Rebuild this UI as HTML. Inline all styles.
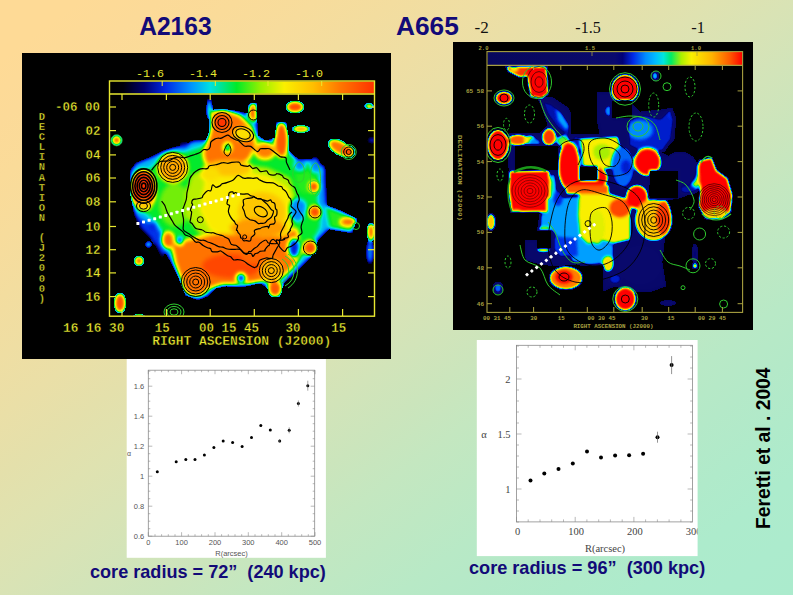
<!DOCTYPE html>
<html><head><meta charset="utf-8">
<style>
html,body{margin:0;padding:0;}
body{width:793px;height:595px;overflow:hidden;position:relative;
background:linear-gradient(to bottom right,rgb(254,218,150) 0%,rgb(254,218,150) 5%,rgb(252,218,152) 10%,rgb(250,219,153) 15%,rgb(247,220,156) 20%,rgb(243,221,159) 25%,rgb(239,222,163) 30%,rgb(234,223,167) 35%,rgb(228,224,171) 40%,rgb(223,226,176) 45%,rgb(217,227,181) 50%,rgb(210,228,185) 55%,rgb(203,229,188) 60%,rgb(196,231,192) 65%,rgb(190,232,195) 70%,rgb(184,233,198) 75%,rgb(180,233,200) 80%,rgb(176,234,202) 85%,rgb(173,235,204) 90%,rgb(172,235,205) 95%,rgb(171,235,205) 100%);
font-family:"Liberation Sans",sans-serif;}
svg{position:absolute;left:0;top:0;}
</style></head>
<body>
<svg width="793" height="595" viewBox="0 0 793 595">
<defs>
<filter id="fL" filterUnits="userSpaceOnUse" x="100" y="85" width="285" height="240" color-interpolation-filters="sRGB">
<feColorMatrix in="SourceGraphic" type="matrix" values="0 0 0 0 0  0 0 0 0 0  0 0 0 0 0  1 0 0 0 0" result="m0"/>
<feComponentTransfer in="m0" result="mask"><feFuncA type="discrete" tableValues="0 1 1 1 1 1 1 1 1 1 1 1 1 1 1 1 1 1 1 1 1 1 1 1 1 1 1 1 1 1 1 1"/></feComponentTransfer>
<feGaussianBlur in="SourceGraphic" stdDeviation="2.0" result="b"/>
<feComponentTransfer in="b" result="c">
<feFuncR type="table" tableValues="0.000 0.000 0.000 0.000 0.000 0.000 0.000 0.000 0.000 0.000 0.000 0.000 0.000 0.000 0.000 0.000 0.000 0.000 0.000 0.000 0.000 0.000 0.000 0.000 0.000 0.000 0.000 0.000 0.000 0.000 0.000 0.000 0.000 0.000 0.000 0.000 0.000 0.000 0.000 0.000 0.000 0.000 0.000 0.000 0.000 0.000 0.028 0.096 0.165 0.234 0.303 0.372 0.440 0.509 0.578 0.627 0.673 0.719 0.765 0.811 0.857 0.902 0.948 0.981 0.983 0.985 0.987 0.988 0.990 0.992 0.994 0.996 0.998 1.000 1.000 1.000 1.000 1.000 1.000 1.000 1.000 1.000 1.000 1.000 1.000 1.000 1.000 1.000 1.000 1.000 1.000 1.000 1.000 1.000 1.000 1.000"/>
<feFuncG type="table" tableValues="0.000 0.000 0.000 0.000 0.000 0.000 0.000 0.000 0.000 0.000 0.000 0.000 0.000 0.013 0.034 0.055 0.075 0.096 0.117 0.137 0.159 0.205 0.250 0.295 0.341 0.386 0.432 0.477 0.522 0.568 0.613 0.657 0.701 0.745 0.789 0.834 0.878 0.886 0.890 0.894 0.898 0.903 0.907 0.911 0.915 0.919 0.922 0.925 0.927 0.929 0.932 0.934 0.936 0.939 0.941 0.941 0.941 0.941 0.941 0.941 0.941 0.941 0.941 0.936 0.917 0.898 0.879 0.860 0.842 0.823 0.804 0.785 0.767 0.748 0.721 0.692 0.663 0.634 0.605 0.576 0.547 0.518 0.489 0.463 0.441 0.418 0.396 0.374 0.352 0.329 0.307 0.285 0.263 0.241 0.218 0.196"/>
<feFuncB type="table" tableValues="0.000 0.007 0.013 0.020 0.026 0.045 0.097 0.150 0.202 0.255 0.308 0.360 0.413 0.472 0.534 0.595 0.657 0.719 0.781 0.843 0.902 0.913 0.923 0.933 0.944 0.954 0.964 0.975 0.985 0.995 0.990 0.973 0.955 0.937 0.920 0.902 0.884 0.814 0.737 0.661 0.585 0.508 0.432 0.355 0.279 0.203 0.150 0.131 0.113 0.094 0.076 0.058 0.039 0.021 0.003 0.000 0.000 0.000 0.000 0.000 0.000 0.000 0.000 0.000 0.000 0.000 0.000 0.000 0.000 0.000 0.000 0.000 0.000 0.000 0.000 0.000 0.000 0.000 0.000 0.000 0.000 0.000 0.000 0.000 0.000 0.000 0.000 0.000 0.000 0.000 0.000 0.000 0.000 0.000 0.000 0.000"/>
<feFuncA type="table" tableValues="1 1"/>
</feComponentTransfer>
<feComposite in="c" in2="mask" operator="in"/>
</filter>
<filter id="fR" filterUnits="userSpaceOnUse" x="478" y="56" width="275" height="266" color-interpolation-filters="sRGB">
<feColorMatrix in="SourceGraphic" type="matrix" values="0 0 0 0 0  0 0 0 0 0  0 0 0 0 0  1 0 0 0 0" result="m0"/>
<feComponentTransfer in="m0" result="mask"><feFuncA type="discrete" tableValues="0 1 1 1 1 1 1 1 1 1 1 1 1 1 1 1 1 1 1 1 1 1 1 1 1 1 1 1 1 1 1 1"/></feComponentTransfer>
<feGaussianBlur in="SourceGraphic" stdDeviation="1.6" result="b"/>
<feComponentTransfer in="b" result="c">
<feFuncR type="table" tableValues="0.000 0.000 0.000 0.000 0.001 0.004 0.008 0.011 0.014 0.018 0.020 0.020 0.021 0.021 0.022 0.022 0.023 0.023 0.024 0.025 0.025 0.026 0.026 0.027 0.027 0.028 0.028 0.029 0.029 0.030 0.030 0.031 0.031 0.032 0.032 0.033 0.033 0.034 0.034 0.035 0.035 0.036 0.036 0.037 0.037 0.038 0.038 0.039 0.032 0.019 0.005 0.000 0.000 0.000 0.000 0.000 0.000 0.000 0.000 0.000 0.000 0.000 0.000 0.000 0.000 0.000 0.000 0.000 0.000 0.105 0.281 0.456 0.632 0.733 0.815 0.898 0.980 0.983 0.986 0.988 0.991 0.993 0.996 0.998 1.000 1.000 1.000 1.000 1.000 1.000 1.000 1.000 1.000 1.000 1.000 1.000"/>
<feFuncG type="table" tableValues="0.000 0.000 0.000 0.000 0.001 0.004 0.008 0.011 0.014 0.018 0.020 0.020 0.021 0.021 0.022 0.022 0.023 0.023 0.024 0.025 0.025 0.026 0.026 0.027 0.027 0.028 0.028 0.029 0.029 0.030 0.030 0.031 0.031 0.032 0.032 0.033 0.033 0.034 0.034 0.035 0.035 0.036 0.036 0.037 0.037 0.038 0.038 0.039 0.032 0.019 0.005 0.027 0.068 0.109 0.151 0.227 0.310 0.392 0.475 0.554 0.606 0.657 0.709 0.762 0.817 0.872 0.905 0.912 0.919 0.925 0.930 0.935 0.940 0.941 0.941 0.941 0.941 0.910 0.879 0.848 0.817 0.786 0.755 0.724 0.685 0.632 0.579 0.525 0.472 0.419 0.366 0.297 0.223 0.149 0.074 0.000"/>
<feFuncB type="table" tableValues="0.000 0.021 0.041 0.062 0.089 0.144 0.200 0.255 0.310 0.365 0.393 0.394 0.395 0.396 0.397 0.398 0.399 0.400 0.401 0.402 0.403 0.404 0.405 0.406 0.407 0.408 0.409 0.410 0.411 0.412 0.413 0.414 0.415 0.416 0.417 0.418 0.420 0.421 0.422 0.423 0.424 0.425 0.426 0.427 0.428 0.429 0.430 0.431 0.438 0.452 0.466 0.544 0.658 0.771 0.885 0.920 0.940 0.961 0.981 1.000 1.000 1.000 1.000 0.986 0.937 0.889 0.788 0.623 0.458 0.330 0.227 0.124 0.021 0.000 0.000 0.000 0.000 0.000 0.000 0.000 0.000 0.000 0.000 0.000 0.000 0.000 0.000 0.000 0.000 0.000 0.000 0.000 0.000 0.000 0.000 0.000"/>
<feFuncA type="table" tableValues="1 1"/>
</feComponentTransfer>
<feComposite in="c" in2="mask" operator="in"/>
</filter>
<clipPath id="cL"><rect x="109.5" y="93.5" width="264.5" height="222"/></clipPath>
<clipPath id="cR"><rect x="487" y="65.5" width="255.5" height="247"/></clipPath>
<linearGradient id="gL" x1="0" x2="1" y1="0" y2="0"><stop offset="0.000" stop-color="rgb(0,0,0)"/><stop offset="0.050" stop-color="rgb(0,0,8)"/><stop offset="0.130" stop-color="rgb(0,0,110)"/><stop offset="0.210" stop-color="rgb(0,40,230)"/><stop offset="0.310" stop-color="rgb(0,150,255)"/><stop offset="0.380" stop-color="rgb(0,225,225)"/><stop offset="0.480" stop-color="rgb(0,235,40)"/><stop offset="0.570" stop-color="rgb(150,240,0)"/><stop offset="0.660" stop-color="rgb(250,240,0)"/><stop offset="0.770" stop-color="rgb(255,190,0)"/><stop offset="0.870" stop-color="rgb(255,120,0)"/><stop offset="1.000" stop-color="rgb(255,50,0)"/></linearGradient>
<linearGradient id="gR" x1="0" x2="1" y1="0" y2="0"><stop offset="0.000" stop-color="rgb(8,8,92)"/><stop offset="0.500" stop-color="rgb(10,10,110)"/><stop offset="0.530" stop-color="rgb(0,0,120)"/><stop offset="0.570" stop-color="rgb(0,40,230)"/><stop offset="0.620" stop-color="rgb(0,140,255)"/><stop offset="0.660" stop-color="rgb(0,190,255)"/><stop offset="0.690" stop-color="rgb(0,230,220)"/><stop offset="0.720" stop-color="rgb(0,235,100)"/><stop offset="0.760" stop-color="rgb(170,240,0)"/><stop offset="0.800" stop-color="rgb(250,240,0)"/><stop offset="0.880" stop-color="rgb(255,180,0)"/><stop offset="0.950" stop-color="rgb(255,90,0)"/><stop offset="1.000" stop-color="rgb(255,0,0)"/></linearGradient>
</defs>
<rect x="22" y="53" width="369" height="306" fill="#000"/>
<rect x="453" y="42" width="300" height="288" fill="#000"/>
<g clip-path="url(#cL)"><g filter="url(#fL)"><rect x="100" y="85" width="285" height="240" fill="#000"/>
<path d="M130 171 L136 163 L151 157 L163 151 L175 147 L184 146 L192 141 L200 140 L209 141 L209 117 L207 99 L211 99 L213 110 L221 109 L236 111 L248 114 L249 104 L258 103 L257 121 L262 136 L272 137 L274 122 L286 122 L288 140 L289 152 L298 159 L314 159 L325 167 L327 206 L341 213 L356 221 L352 233 L329 229 L318 240 L310 258 L297 271 L284 283 L279 297 L271 291 L261 283 L241 287 L226 286 L216 288 L208 296 L198 300 L188 296 L186 296 L182 286 L178 276 L173 266 L167 255 L162 248 L156 240 L150 232 L140 224 L134 212 L130 191 Z" fill="rgb(87,87,87)"/>
<path d="M138 178 L160 160 L185 152 L204 146 L212 125 L240 118 L255 132 L270 144 L290 152 L300 164 L318 166 L322 200 L320 228 L310 245 L298 262 L284 276 L262 278 L241 282 L222 282 L205 290 L192 290 L184 276 L178 262 L170 250 L165 235 L155 222 L145 212 Z" fill="rgb(122,122,122)"/>
<ellipse cx="175" cy="205" rx="16" ry="22" fill="rgb(140,140,140)"/>
<path d="M207 145 L211 130 L212 112 L224 110 L240 116 L252 128 L256 146 L248 160 L232 166 L214 167 L205 162 L203 152 Z" fill="rgb(224,224,224)"/>
<ellipse cx="243" cy="134" rx="10" ry="7" fill="rgb(178,178,178)"/>
<ellipse cx="227.5" cy="147.5" rx="4" ry="5" fill="rgb(97,97,97)"/>
<ellipse cx="222" cy="122.5" rx="6" ry="6" fill="rgb(255,255,255)"/>
<ellipse cx="254" cy="112" rx="5.5" ry="9" fill="rgb(235,235,235)"/>
<ellipse cx="281.5" cy="140" rx="7" ry="17" fill="rgb(237,237,237)"/>
<path d="M192 174 L232 163 L268 168 L290 178 L298 206 L292 230 L272 244 L232 244 L200 234 L186 216 L186 192 Z" fill="rgb(153,153,153)"/>
<path d="M205 180 L238 170 L268 176 L288 188 L296 208 L290 230 L270 242 L236 240 L210 230 L200 210 Z" fill="rgb(171,171,171)"/>
<ellipse cx="262" cy="212" rx="24" ry="20" fill="rgb(191,191,191)"/>
<ellipse cx="258" cy="228" rx="28" ry="10" fill="rgb(209,209,209)"/>
<ellipse cx="228" cy="168" rx="24" ry="8" fill="rgb(194,194,194)"/>
<ellipse cx="210" cy="174" rx="10" ry="7" fill="rgb(178,178,178)"/>
<path d="M172 244 L195 238 L215 234 L240 235 L262 238 L283 236 L296 228 L302 252 L292 268 L280 279 L262 281 L244 284 L222 284 L205 290 L192 292 L186 290 L180 276 L175 262 Z" fill="rgb(224,224,224)"/>
<ellipse cx="232" cy="266" rx="30" ry="12" fill="rgb(245,245,245)"/>
<ellipse cx="255" cy="258" rx="14" ry="6" fill="rgb(230,230,230)"/>
<path d="M256 100 L276 100 L277 120 L275 138 L266 141 L258 136 L257 120 Z" fill="rgb(0,0,0)"/>
<path d="M290 114 L300 114 L318 120 L326 150 L310 156 L297 152 L290 140 Z" fill="rgb(0,0,0)"/>
<ellipse cx="295" cy="107" rx="9" ry="6" fill="rgb(242,242,242)"/>
<ellipse cx="301" cy="129" rx="9" ry="3.5" fill="rgb(230,230,230)"/>
<ellipse cx="265" cy="151" rx="10" ry="8" fill="rgb(219,219,219)"/>
<ellipse cx="209" cy="110" rx="2.5" ry="9" fill="rgb(115,115,115)"/>
<ellipse cx="143" cy="190" rx="12" ry="20" fill="rgb(255,255,255)"/>
<ellipse cx="143.5" cy="205" rx="8" ry="6" fill="rgb(191,191,191)"/>
<ellipse cx="172.7" cy="167.4" rx="15" ry="15" fill="rgb(204,204,204)"/>
<ellipse cx="305" cy="178" rx="10" ry="16" fill="rgb(128,128,128)"/>
<ellipse cx="300" cy="165" rx="6" ry="6" fill="rgb(76,76,76)"/>
<ellipse cx="315" cy="165" rx="5" ry="8" fill="rgb(76,76,76)"/>
<ellipse cx="322" cy="195" rx="4" ry="22" fill="rgb(76,76,76)"/>
<ellipse cx="314" cy="186.7" rx="5" ry="5" fill="rgb(242,242,242)"/>
<ellipse cx="315" cy="212" rx="6" ry="6" fill="rgb(242,242,242)"/>
<ellipse cx="301" cy="207" rx="5" ry="7" fill="rgb(64,64,64)"/>
<ellipse cx="294" cy="248" rx="6" ry="10" fill="rgb(51,51,51)"/>
<ellipse cx="310.4" cy="248" rx="7" ry="7" fill="rgb(242,242,242)"/>
<path d="M325 205 L341 211 L357 219 L352 232 L330 229 Z" fill="rgb(128,128,128)"/>
<ellipse cx="348" cy="222" rx="8" ry="4" fill="rgb(230,230,230)"/>
<ellipse cx="184" cy="145" rx="4" ry="3" fill="rgb(46,46,46)"/>
<path d="M134 214 L145 221 L158 228 L164 240 L165 252 L162 258 L157 248 L150 238 L140 228 Z" fill="rgb(56,56,56)"/>
<ellipse cx="297" cy="210" rx="8" ry="12" fill="rgb(76,76,76)"/>
<ellipse cx="180" cy="241" rx="3" ry="4" fill="rgb(51,51,51)"/>
<ellipse cx="153" cy="226" rx="4" ry="4" fill="rgb(51,51,51)"/>
<ellipse cx="241" cy="278" rx="5" ry="5" fill="rgb(56,56,56)"/>
<ellipse cx="168" cy="240" rx="6" ry="8" fill="rgb(230,230,230)"/>
<ellipse cx="195.7" cy="282" rx="14" ry="14" fill="rgb(224,224,224)"/>
<ellipse cx="271.3" cy="270.6" rx="12" ry="12" fill="rgb(199,199,199)"/>
<ellipse cx="275" cy="289" rx="7" ry="8" fill="rgb(237,237,237)"/>
<ellipse cx="116.6" cy="140.3" rx="5" ry="5" fill="rgb(235,235,235)"/>
<ellipse cx="340" cy="148" rx="13" ry="7" fill="rgb(224,224,224)" transform="rotate(30 340 148)"/>
<ellipse cx="348.7" cy="152" rx="6" ry="6" fill="rgb(242,242,242)"/>
<ellipse cx="371.9" cy="140.3" rx="4" ry="3" fill="rgb(56,56,56)"/>
<ellipse cx="369" cy="106" rx="4.5" ry="2.5" fill="rgb(237,237,237)"/>
<ellipse cx="371" cy="232" rx="4" ry="9" fill="rgb(235,235,235)"/>
<ellipse cx="370" cy="252" rx="4" ry="12" fill="rgb(76,76,76)"/>
<ellipse cx="120" cy="303" rx="6" ry="10" fill="rgb(242,242,242)"/>
<ellipse cx="139" cy="317" rx="6" ry="3" fill="rgb(242,242,242)"/>
<ellipse cx="139" cy="261" rx="5" ry="5" fill="rgb(230,230,230)"/>
<ellipse cx="148.4" cy="244.4" rx="3" ry="3" fill="rgb(128,128,128)"/>
</g>
<ellipse cx="260.8" cy="211.6" rx="7" ry="4.55" fill="none" stroke="#000" stroke-width="1.1" transform="rotate(30 260.8 211.6)"/>
<path d="M243.4 199.9 C244.2 198.7 246.8 198.6 248.1 198.3 C249.5 198.0 250.5 198.1 251.4 197.9 C252.4 197.7 252.6 196.9 253.6 197.0 C254.5 197.1 256.0 198.1 257.2 198.5 C258.4 198.8 259.5 198.3 261.0 199.0 C262.4 199.8 264.7 202.2 265.8 203.0 C266.8 203.9 266.2 203.0 267.1 204.1 C268.0 205.2 270.1 208.3 271.1 209.4 C272.1 210.5 272.9 210.1 273.2 210.7 C273.6 211.2 273.5 211.8 273.2 212.9 C272.9 213.9 272.4 215.8 271.5 217.0 C270.6 218.1 269.0 218.8 267.9 219.8 C266.7 220.8 265.9 222.4 264.7 223.0 C263.5 223.6 261.7 223.2 260.6 223.3 C259.6 223.4 259.4 224.0 258.4 223.6 C257.5 223.2 256.2 221.6 254.8 220.9 C253.4 220.3 251.0 220.1 249.9 219.7 C248.9 219.4 249.3 219.3 248.6 218.8 C247.9 218.2 246.4 217.3 245.7 216.3 C245.1 215.2 244.8 213.3 244.5 212.4 C244.2 211.4 244.3 211.5 243.9 210.6 C243.6 209.8 242.5 208.1 242.5 207.2 C242.5 206.3 243.6 206.4 243.7 205.2 C243.9 204.0 242.7 201.0 243.4 199.9Z" fill="none" stroke="#000" stroke-width="1.2"/>
<path d="M229.2 192.8 C229.9 192.0 232.0 191.8 232.7 191.9 C233.5 192.1 233.2 193.6 233.6 193.7 C234.1 193.7 234.7 192.5 235.5 192.5 C236.3 192.5 237.0 193.4 238.5 193.7 C239.9 194.0 242.6 194.0 244.2 194.1 C245.7 194.1 246.8 193.6 247.9 193.9 C249.0 194.2 249.7 195.4 250.7 195.8 C251.7 196.2 252.5 195.8 253.7 196.4 C254.9 196.9 256.8 198.5 257.9 198.9 C259.0 199.3 259.4 198.6 260.1 198.7 C260.8 198.8 260.9 199.1 262.1 199.5 C263.3 199.9 266.0 201.0 267.4 201.1 C268.8 201.1 269.8 199.7 270.6 199.8 C271.3 200.0 271.4 201.7 271.9 202.1 C272.3 202.5 272.9 202.2 273.4 202.5 C273.9 202.8 274.5 203.0 274.9 204.0 C275.2 205.1 275.2 207.8 275.6 208.8 C275.9 209.8 276.6 208.7 276.8 209.8 C277.0 210.9 277.0 213.9 276.6 215.2 C276.2 216.4 274.9 216.0 274.6 217.2 C274.3 218.3 275.2 220.8 275.1 221.9 C274.9 223.0 274.7 223.5 273.9 223.9 C273.1 224.3 271.1 223.8 270.2 224.5 C269.3 225.2 268.9 227.7 268.4 228.0 C268.0 228.3 268.7 226.5 267.7 226.3 C266.7 226.2 263.8 226.9 262.5 227.3 C261.2 227.7 260.5 228.5 259.9 228.8 C259.4 229.0 259.9 228.5 259.1 228.7 C258.3 228.9 255.9 229.5 255.1 229.9 C254.4 230.3 254.3 230.3 254.3 231.0 C254.2 231.7 255.2 233.2 254.8 234.1 C254.5 235.0 252.7 236.0 252.1 236.6 C251.5 237.1 251.5 236.8 251.3 237.5 C251.0 238.1 251.0 239.8 250.6 240.5 C250.3 241.1 249.9 241.2 249.2 241.2 C248.5 241.2 247.3 240.7 246.4 240.6 C245.4 240.5 244.5 241.1 243.7 240.7 C243.0 240.3 242.4 238.7 241.9 238.2 C241.4 237.7 241.0 238.4 240.7 237.8 C240.4 237.3 240.5 235.7 240.1 234.8 C239.6 233.9 238.5 233.1 238.0 232.4 C237.5 231.6 237.6 230.8 237.3 230.4 C237.1 230.0 236.4 230.8 236.4 230.0 C236.5 229.2 237.7 226.6 237.6 225.6 C237.5 224.6 236.4 225.0 235.8 224.2 C235.2 223.4 234.5 221.4 234.1 220.8 C233.8 220.3 234.3 221.6 233.6 220.9 C233.0 220.2 231.2 218.1 230.4 216.6 C229.5 215.2 228.8 213.3 228.5 212.1 C228.2 210.8 228.5 210.3 228.7 209.2 C228.8 208.1 229.8 206.4 229.6 205.5 C229.3 204.6 227.1 205.1 227.0 203.7 C226.8 202.2 228.2 198.5 228.6 196.7 C229.0 194.9 228.5 193.6 229.2 192.8Z" fill="none" stroke="#000" stroke-width="1.2"/>
<path d="M212.5 184.9 C213.4 184.3 214.6 187.1 215.9 187.3 C217.1 187.4 219.3 186.2 220.3 185.7 C221.3 185.1 220.7 184.5 221.7 184.0 C222.8 183.5 224.9 183.3 226.8 182.6 C228.7 181.9 231.5 181.1 233.3 179.9 C235.2 178.7 236.3 175.7 238.1 175.4 C239.8 175.1 242.0 177.8 243.6 178.2 C245.3 178.6 246.4 178.0 247.8 177.9 C249.1 177.9 250.8 178.0 251.7 178.1 C252.6 178.1 252.3 178.4 253.2 178.4 C254.1 178.4 256.0 177.6 257.0 177.9 C258.0 178.1 257.9 178.9 259.3 179.7 C260.7 180.4 263.1 181.8 265.4 182.3 C267.7 182.9 270.8 182.3 273.0 182.9 C275.1 183.5 276.8 185.3 278.3 186.0 C279.8 186.6 281.0 186.2 281.7 186.7 C282.5 187.2 282.0 188.1 282.7 188.9 C283.5 189.7 285.0 190.2 286.0 191.6 C287.0 192.9 288.0 195.9 288.8 197.1 C289.6 198.4 290.4 198.1 290.8 199.2 C291.3 200.2 291.5 202.3 291.6 203.6 C291.6 204.8 290.5 205.3 291.1 206.4 C291.7 207.5 294.3 209.2 295.1 210.2 C295.9 211.2 296.3 211.3 295.9 212.5 C295.5 213.8 293.4 216.0 292.7 217.6 C292.1 219.1 291.9 220.5 291.9 221.6 C291.9 222.8 292.9 223.1 292.6 224.4 C292.3 225.7 290.4 228.5 290.1 229.5 C289.7 230.5 290.8 229.7 290.4 230.4 C290.0 231.1 288.2 232.6 287.8 233.7 C287.5 234.8 289.0 236.3 288.3 237.1 C287.6 238.0 284.5 238.2 283.9 238.6 C283.2 239.0 285.2 239.1 284.5 239.4 C283.9 239.7 281.2 240.3 279.8 240.4 C278.5 240.5 277.0 239.5 276.4 240.0 C275.9 240.5 277.2 242.8 276.4 243.4 C275.6 244.0 273.0 243.7 271.6 243.6 C270.2 243.5 268.9 243.4 268.0 242.8 C267.0 242.1 267.1 239.9 265.8 240.0 C264.6 240.0 262.1 241.8 260.6 242.9 C259.2 244.0 258.4 245.6 257.2 246.6 C256.1 247.5 255.0 247.9 253.9 248.7 C252.9 249.6 251.7 251.2 250.9 251.6 C250.0 252.1 249.5 251.1 248.9 251.5 C248.3 252.0 247.8 254.0 247.0 254.3 C246.1 254.5 244.7 253.6 243.7 253.0 C242.8 252.4 242.2 251.4 241.3 250.4 C240.5 249.5 239.6 248.3 238.7 247.5 C237.7 246.6 236.9 245.8 235.7 245.3 C234.5 244.8 232.7 245.3 231.6 244.6 C230.6 243.8 230.0 241.7 229.5 240.8 C228.9 239.9 229.4 239.7 228.6 239.0 C227.7 238.4 225.6 237.4 224.6 236.9 C223.6 236.3 223.9 236.1 222.7 235.7 C221.4 235.3 218.7 234.8 217.2 234.3 C215.7 233.8 214.6 233.0 213.6 232.8 C212.6 232.5 212.6 232.9 211.3 232.8 C210.0 232.7 207.4 232.8 205.9 232.3 C204.4 231.8 203.8 230.5 202.3 230.0 C200.7 229.4 197.9 229.4 196.6 228.8 C195.2 228.3 195.0 227.6 194.2 226.7 C193.5 225.8 192.7 224.3 192.0 223.5 C191.4 222.7 190.3 223.1 190.1 222.1 C189.9 221.2 190.6 219.6 190.8 217.9 C191.1 216.2 191.7 213.2 191.6 211.9 C191.5 210.6 190.2 211.2 190.4 210.0 C190.6 208.8 192.4 205.9 192.6 204.7 C192.8 203.6 191.6 203.9 191.7 203.0 C191.7 202.2 192.1 200.3 192.8 199.7 C193.6 199.0 194.7 199.4 196.2 199.0 C197.7 198.7 200.7 198.4 201.8 197.8 C203.0 197.1 202.2 196.4 203.2 195.2 C204.1 194.0 206.2 191.4 207.5 190.7 C208.8 189.9 210.1 191.6 210.9 190.6 C211.8 189.6 211.7 185.4 212.5 184.9Z" fill="none" stroke="#000" stroke-width="1.2"/>
<path d="M195.3 171.7 C196.7 170.8 198.6 169.4 200.6 168.9 C202.6 168.4 205.8 169.1 207.2 168.6 C208.7 168.1 208.1 166.6 209.3 166.0 C210.5 165.4 213.1 165.3 214.5 165.0 C215.8 164.7 216.0 164.7 217.5 164.3 C218.9 163.9 221.5 162.8 223.2 162.7 C225.0 162.5 226.6 163.4 228.0 163.3 C229.5 163.3 229.9 162.5 231.7 162.3 C233.5 162.1 237.4 161.8 239.0 162.2 C240.6 162.7 239.8 164.4 241.2 165.1 C242.7 165.8 246.2 166.3 247.6 166.4 C249.0 166.4 248.6 165.1 249.4 165.4 C250.3 165.8 251.4 168.1 252.6 168.5 C253.8 168.8 255.4 167.2 256.7 167.7 C258.0 168.3 258.9 171.1 260.6 171.6 C262.2 172.1 265.1 170.4 266.5 170.9 C267.9 171.3 267.6 173.6 269.1 174.3 C270.5 175.0 273.8 175.1 275.1 174.9 C276.4 174.8 275.8 173.5 277.0 173.6 C278.1 173.6 281.1 174.7 282.2 175.4 C283.3 176.1 282.6 176.9 283.6 177.7 C284.6 178.5 287.2 179.1 288.1 180.0 C289.0 180.8 288.5 181.9 289.1 182.8 C289.7 183.8 290.7 184.7 291.7 185.6 C292.7 186.4 294.0 186.5 295.0 187.9 C295.9 189.3 296.7 192.6 297.3 193.8 C297.8 195.1 298.0 194.3 298.4 195.3 C298.7 196.3 299.3 198.3 299.2 199.7 C299.1 201.1 298.1 202.2 297.9 203.5 C297.6 204.8 297.3 206.2 297.7 207.6 C298.0 209.1 299.0 210.6 299.9 212.0 C300.7 213.4 302.1 214.7 302.7 216.0 C303.2 217.3 303.3 218.5 303.2 219.7 C303.1 220.9 302.4 221.9 302.0 223.2 C301.7 224.4 301.1 225.6 301.1 227.2 C301.1 228.8 302.4 231.5 301.9 233.0 C301.5 234.4 298.7 235.2 298.2 236.1 C297.6 237.0 298.9 237.2 298.5 238.3 C298.2 239.4 297.3 241.3 296.1 242.7 C294.9 244.0 292.8 245.5 291.4 246.3 C289.9 247.2 288.5 246.8 287.4 247.7 C286.2 248.5 285.8 251.5 284.6 251.5 C283.4 251.6 281.2 249.0 280.1 247.7 C279.0 246.4 279.0 245.1 277.9 243.8 C276.8 242.4 274.7 239.9 273.5 239.5 C272.3 239.1 271.4 240.2 270.7 241.1 C270.0 242.1 269.5 244.6 269.1 245.4 C268.6 246.2 268.7 245.2 268.0 245.9 C267.3 246.6 265.5 248.9 264.9 249.8 C264.4 250.6 265.7 250.6 264.9 250.9 C264.2 251.1 261.6 250.8 260.5 251.2 C259.4 251.5 258.9 252.4 258.0 252.9 C257.1 253.3 256.0 253.2 255.1 253.8 C254.3 254.4 253.6 256.5 252.9 256.5 C252.3 256.4 252.4 254.0 251.0 253.5 C249.6 252.9 246.2 253.8 244.4 253.2 C242.7 252.5 241.9 250.2 240.4 249.5 C238.9 248.9 236.5 249.3 235.2 249.3 C233.9 249.3 233.8 249.4 232.5 249.3 C231.2 249.3 229.1 249.4 227.4 249.0 C225.8 248.7 224.1 247.6 222.6 247.2 C221.2 246.9 220.1 247.1 218.7 246.7 C217.3 246.2 215.6 245.1 214.3 244.5 C213.0 243.9 212.1 243.5 211.0 243.1 C209.9 242.7 208.8 242.4 207.7 242.0 C206.5 241.5 205.3 240.6 204.0 240.3 C202.7 240.0 201.3 240.6 199.7 240.2 C198.1 239.7 195.7 238.2 194.4 237.6 C193.2 236.9 193.1 236.8 192.2 236.2 C191.2 235.5 189.9 234.6 188.5 233.6 C187.0 232.5 184.3 231.4 183.5 230.0 C182.6 228.6 183.4 226.9 183.4 225.1 C183.4 223.3 183.7 221.4 183.5 219.1 C183.3 216.9 182.1 213.8 182.2 211.6 C182.3 209.5 183.3 208.1 184.0 206.1 C184.7 204.0 185.8 201.6 186.3 199.4 C186.8 197.2 186.6 195.2 186.9 192.9 C187.3 190.6 188.1 188.0 188.6 185.6 C189.1 183.2 189.3 180.4 189.9 178.6 C190.5 176.8 191.4 175.9 192.3 174.8 C193.2 173.6 193.9 172.7 195.3 171.7Z" fill="none" stroke="#000" stroke-width="1.2"/>
<path d="M161.6 201.1 C162.2 201.8 163.9 203.8 164.8 205.4 C165.6 207.0 166.1 209.3 166.6 210.6 C167.2 212.0 166.9 211.8 167.9 213.5 C168.8 215.2 171.1 218.9 172.2 220.8 C173.3 222.7 173.6 223.7 174.6 224.9 C175.7 226.2 177.1 227.2 178.5 228.3 C179.9 229.4 181.9 230.7 183.0 231.8 C184.0 232.8 183.6 233.8 185.0 234.7 C186.4 235.6 189.6 236.1 191.3 237.4 C193.1 238.6 194.3 241.2 195.6 242.0 C196.8 242.8 197.7 241.7 199.0 242.3 C200.2 242.8 201.7 244.5 203.1 245.4 C204.5 246.3 206.2 247.2 207.4 247.7 C208.6 248.2 209.6 247.9 210.4 248.5 C211.2 249.2 211.0 251.1 212.2 251.6 C213.3 252.2 216.1 251.9 217.4 251.8 C218.8 251.6 219.5 250.9 220.3 250.8 C221.0 250.8 220.8 250.9 222.0 251.7 C223.2 252.4 225.9 254.7 227.3 255.5 C228.8 256.4 229.7 256.1 230.7 256.8 C231.7 257.5 232.4 259.4 233.6 259.9 C234.7 260.4 236.0 259.5 237.6 259.6 C239.2 259.7 241.5 260.0 243.2 260.7 C244.8 261.4 246.8 263.3 247.6 263.9 C248.4 264.5 246.9 263.5 247.9 264.1 C249.0 264.7 252.5 266.9 253.9 267.4 C255.2 267.9 255.5 267.0 256.0 266.9 C256.6 266.7 256.5 267.2 256.9 266.5 C257.4 265.8 258.1 263.9 258.6 262.8 C259.1 261.7 258.8 260.9 260.1 260.1 C261.3 259.3 264.5 258.3 266.0 258.0 C267.5 257.7 267.9 258.3 269.0 258.4 C270.0 258.4 271.9 258.6 272.5 258.2 C273.2 257.7 272.3 256.9 273.0 255.4 C273.6 253.9 275.6 250.6 276.3 249.2 C277.0 247.9 276.8 248.3 277.3 247.4 C277.9 246.4 279.2 244.6 279.6 243.4 C279.9 242.2 279.2 241.0 279.4 240.2 C279.6 239.3 280.6 239.6 280.8 238.4 C281.0 237.2 280.1 235.1 280.7 233.1 C281.2 231.0 283.4 227.7 284.2 226.0 C285.0 224.3 284.7 224.2 285.4 222.9 C286.0 221.6 287.4 219.4 288.0 218.1 C288.5 216.8 288.2 216.1 288.9 215.1 C289.6 214.0 291.5 212.5 292.0 212.0" fill="none" stroke="#000" stroke-width="1.2"/>
<path d="M151.6 170.3 C152.1 169.6 153.3 167.8 154.6 166.4 C155.8 165.0 157.8 162.8 159.3 161.9 C160.8 161.0 162.1 161.3 163.7 161.1 C165.4 160.9 167.6 161.3 169.3 160.7 C171.1 160.2 172.4 158.5 174.2 157.9 C176.0 157.3 178.3 157.0 180.0 157.0 C181.8 157.0 182.7 158.0 184.6 157.8 C186.5 157.6 189.4 156.2 191.2 155.7 C193.0 155.1 193.9 154.9 195.4 154.3 C196.9 153.7 199.0 153.0 200.4 152.2 C201.8 151.4 202.5 149.9 203.7 149.6 C204.9 149.2 206.7 150.2 207.7 149.8 C208.8 149.4 209.6 148.5 210.1 147.1 C210.7 145.8 210.1 143.3 211.0 141.9 C211.9 140.5 214.2 139.4 215.4 138.8 C216.5 138.2 216.9 138.3 217.9 138.2 C218.9 138.0 219.8 138.6 221.4 138.1 C223.0 137.6 225.9 135.4 227.5 135.2 C229.2 135.1 229.8 136.6 231.2 137.4 C232.5 138.1 234.2 139.1 235.5 139.7 C236.8 140.3 237.5 139.9 238.9 140.9 C240.4 142.0 242.4 145.0 244.4 146.0 C246.4 146.9 248.5 145.5 250.7 146.4 C252.8 147.4 255.7 151.2 257.3 151.6 C258.9 152.0 259.3 149.3 260.5 148.8 C261.7 148.4 262.9 148.7 264.3 148.7 C265.8 148.7 267.9 148.2 269.5 148.7 C271.1 149.2 272.4 150.6 274.2 151.9 C276.0 153.2 278.3 155.6 280.2 156.6 C282.2 157.5 284.8 156.8 285.8 157.7 C286.8 158.6 286.0 160.8 286.4 162.1 C286.7 163.4 287.3 164.2 287.9 165.5 C288.5 166.8 289.7 169.2 290.0 170.0" fill="none" stroke="#000" stroke-width="1.2"/>
<ellipse cx="172.7" cy="167.4" rx="3" ry="3" fill="none" stroke="#000" stroke-width="1"/>
<ellipse cx="172.7" cy="167.4" rx="6" ry="6" fill="none" stroke="#000" stroke-width="1"/>
<ellipse cx="172.7" cy="167.4" rx="9" ry="9" fill="none" stroke="#000" stroke-width="1"/>
<ellipse cx="172.7" cy="167.4" rx="12" ry="12" fill="none" stroke="#000" stroke-width="1"/>
<ellipse cx="172.7" cy="167.4" rx="15" ry="15" fill="none" stroke="#000" stroke-width="1"/>
<ellipse cx="143.7" cy="186" rx="2.2" ry="2.86" fill="none" stroke="#000" stroke-width="1.6"/>
<ellipse cx="143.7" cy="186" rx="4.4" ry="5.72" fill="none" stroke="#000" stroke-width="1.6"/>
<ellipse cx="143.7" cy="186" rx="6.6" ry="8.58" fill="none" stroke="#000" stroke-width="1.6"/>
<ellipse cx="143.7" cy="186" rx="8.8" ry="11.44" fill="none" stroke="#000" stroke-width="1.6"/>
<ellipse cx="143.7" cy="186" rx="11" ry="14.3" fill="none" stroke="#000" stroke-width="1.6"/>
<ellipse cx="143.7" cy="186" rx="13.2" ry="17.16" fill="none" stroke="#000" stroke-width="1.6"/>
<ellipse cx="143.5" cy="206" rx="4" ry="3.2" fill="none" stroke="#000" stroke-width="1"/>
<ellipse cx="143.5" cy="206" rx="7" ry="5.6" fill="none" stroke="#000" stroke-width="1"/>
<ellipse cx="195.7" cy="282" rx="3" ry="3" fill="none" stroke="#000" stroke-width="1"/>
<ellipse cx="195.7" cy="282" rx="6" ry="6" fill="none" stroke="#000" stroke-width="1"/>
<ellipse cx="195.7" cy="282" rx="9" ry="9" fill="none" stroke="#000" stroke-width="1"/>
<ellipse cx="195.7" cy="282" rx="12" ry="12" fill="none" stroke="#000" stroke-width="1"/>
<ellipse cx="195.7" cy="282" rx="14.5" ry="14.5" fill="none" stroke="#000" stroke-width="1"/>
<ellipse cx="271.3" cy="270.6" rx="3" ry="3" fill="none" stroke="#000" stroke-width="1"/>
<ellipse cx="271.3" cy="270.6" rx="6" ry="6" fill="none" stroke="#000" stroke-width="1"/>
<ellipse cx="271.3" cy="270.6" rx="9" ry="9" fill="none" stroke="#000" stroke-width="1"/>
<ellipse cx="271.3" cy="270.6" rx="12" ry="12" fill="none" stroke="#000" stroke-width="1"/>
<path d="M282 259 A14 14 0 0 1 282 283 M285 256 A17 17 0 0 1 285 286 M288 254 A20 20 0 0 1 288 288" fill="none" stroke="#30d030" stroke-width="1"/>
<ellipse cx="222" cy="122.5" rx="4" ry="4" fill="none" stroke="#000" stroke-width="1.1"/>
<ellipse cx="222" cy="122.5" rx="7" ry="7" fill="none" stroke="#000" stroke-width="1.1"/>
<ellipse cx="222" cy="122.5" rx="10" ry="10" fill="none" stroke="#000" stroke-width="1.1"/>
<ellipse cx="243" cy="134" rx="11" ry="7.15" fill="none" stroke="#000" stroke-width="1.1" transform="rotate(20 243 134)"/>
<ellipse cx="243" cy="134" rx="7.5" ry="4.875" fill="none" stroke="#000" stroke-width="1.1" transform="rotate(20 243 134)"/>
<ellipse cx="348.7" cy="152" rx="2.5" ry="2.5" fill="none" stroke="#000" stroke-width="1"/>
<ellipse cx="348.7" cy="152" rx="5" ry="5" fill="none" stroke="#000" stroke-width="1"/>
<ellipse cx="348.7" cy="152" rx="7.5" ry="7.5" fill="none" stroke="#30d030" stroke-width="1"/>
<ellipse cx="314" cy="186.7" rx="6" ry="6" fill="none" stroke="#30d030" stroke-width="1"/>
<ellipse cx="315" cy="212" rx="6" ry="6" fill="none" stroke="#000" stroke-width="1"/>
<ellipse cx="310.4" cy="248" rx="7" ry="7" fill="none" stroke="#000" stroke-width="1"/>
<ellipse cx="253.5" cy="115" rx="5" ry="5" fill="none" stroke="#000" stroke-width="1"/>
<ellipse cx="116.6" cy="140.3" rx="5.5" ry="5.5" fill="none" stroke="#30d030" stroke-width="1"/>
<ellipse cx="356" cy="226" rx="3.5" ry="3.5" fill="none" stroke="#30d030" stroke-width="1"/>
<ellipse cx="174" cy="312" rx="4" ry="3.2" fill="none" stroke="#30d030" stroke-width="1"/>
<ellipse cx="174" cy="312" rx="7" ry="5.6" fill="none" stroke="#30d030" stroke-width="1"/>
<ellipse cx="174" cy="312" rx="10" ry="8" fill="none" stroke="#30d030" stroke-width="1"/>
<path d="M228.0 144.0 C229.2 143.7 231.0 148.0 231.0 150.0 C231.0 152.0 229.2 155.7 228.0 156.0 C226.8 156.3 224.0 154.0 224.0 152.0 C224.0 150.0 226.8 144.3 228.0 144.0Z" fill="none" stroke="#000" stroke-width="1"/>
<ellipse cx="200.3" cy="219.7" rx="3" ry="3" fill="none" stroke="#000" stroke-width="1"/>
<ellipse cx="244.7" cy="236.9" rx="2" ry="2" fill="none" stroke="#000" stroke-width="1"/>
<path d="M294.0 168.0 C295.0 165.7 297.3 162.0 299.0 162.0 C300.7 162.0 303.3 165.0 304.0 168.0 C304.7 171.0 304.2 177.7 303.0 180.0 C301.8 182.3 298.7 182.7 297.0 182.0 C295.3 181.3 293.5 178.3 293.0 176.0 C292.5 173.7 293.0 170.3 294.0 168.0Z" fill="none" stroke="#30d030" stroke-width="1"/>
<path d="M311.0 170.0 C311.8 165.5 314.5 162.7 316.0 163.0 C317.5 163.3 319.3 167.5 320.0 172.0 C320.7 176.5 320.7 186.0 320.0 190.0 C319.3 194.0 317.5 196.0 316.0 196.0 C314.5 196.0 311.8 194.3 311.0 190.0 C310.2 185.7 310.2 174.5 311.0 170.0Z" fill="none" stroke="#30d030" stroke-width="1"/>
<rect x="136.4" y="222.0" width="3" height="3" rx="0.6" fill="#fff"/>
<rect x="142.0" y="220.4" width="3" height="3" rx="0.6" fill="#fff"/>
<rect x="147.6" y="218.8" width="3" height="3" rx="0.6" fill="#fff"/>
<rect x="153.2" y="217.2" width="3" height="3" rx="0.6" fill="#fff"/>
<rect x="158.8" y="215.5" width="3" height="3" rx="0.6" fill="#fff"/>
<rect x="164.3" y="213.9" width="3" height="3" rx="0.6" fill="#fff"/>
<rect x="169.9" y="212.3" width="3" height="3" rx="0.6" fill="#fff"/>
<rect x="175.5" y="210.7" width="3" height="3" rx="0.6" fill="#fff"/>
<rect x="181.1" y="209.1" width="3" height="3" rx="0.6" fill="#fff"/>
<rect x="186.7" y="207.4" width="3" height="3" rx="0.6" fill="#fff"/>
<rect x="192.3" y="205.8" width="3" height="3" rx="0.6" fill="#fff"/>
<rect x="197.9" y="204.2" width="3" height="3" rx="0.6" fill="#fff"/>
<rect x="203.5" y="202.6" width="3" height="3" rx="0.6" fill="#fff"/>
<rect x="209.1" y="201.0" width="3" height="3" rx="0.6" fill="#fff"/>
<rect x="214.6" y="199.4" width="3" height="3" rx="0.6" fill="#fff"/>
<rect x="220.2" y="197.8" width="3" height="3" rx="0.6" fill="#fff"/>
<rect x="225.8" y="196.1" width="3" height="3" rx="0.6" fill="#fff"/>
<rect x="231.4" y="194.5" width="3" height="3" rx="0.6" fill="#fff"/>
<rect x="237.0" y="192.9" width="3" height="3" rx="0.6" fill="#fff"/>
</g>
<g clip-path="url(#cR)"><g filter="url(#fR)"><rect x="478" y="56" width="275" height="266" fill="#000"/>
<path d="M537 97 L552 97 L568 108 L575 122 L582 134 L600 134 L620 133 L640 152 L660 152 L676 160 L700 163 L700 190 L680 198 L668 200 L665 235 L662 262 L666 286 L650 292 L630 292 L615 286 L604 291 L583 291 L583 266 L577 264 L555 266 L540 264 L526 260 L525 240 L537 232 L540 213 L520 212 L510 200 L509 170 L508 146 L506 134 L540 133 L548 125 L541 105 Z" fill="rgb(89,89,89)"/>
<path d="M597 92 L612 92 L620 104 L632 104 L640 112 L660 110 L672 108 L676 118 L674 140 L660 152 L640 152 L620 150 L600 134 L597 120 Z" fill="rgb(89,89,89)"/>
<path d="M541 100 L552 103 L562 112 L570 124 L574 134 L566 136 L556 128 L546 114 Z" fill="rgb(140,140,140)"/>
<path d="M556 108 L562 114 L569 126 L566 130 L558 120 Z" fill="rgb(163,163,163)"/>
<ellipse cx="609" cy="111" rx="5" ry="6" fill="rgb(158,158,158)"/>
<path d="M628 118 L645 114 L660 118 L668 110 L675 118 L672 140 L664 152 L640 152 L628 146 Z" fill="rgb(143,143,143)"/>
<ellipse cx="640" cy="130" rx="13" ry="10" fill="rgb(158,158,158)"/>
<ellipse cx="670" cy="114" rx="3" ry="5" fill="rgb(145,145,145)"/>
<path d="M505 66 L528 66 L531 76 L520 78 L508 72 Z" fill="rgb(247,247,247)"/>
<ellipse cx="514" cy="69" rx="4" ry="2.5" fill="rgb(204,204,204)"/>
<path d="M527 66 L547 66 L549 94 L541 99 L530 97 L527 80 Z" fill="rgb(255,255,255)"/>
<ellipse cx="504" cy="98" rx="9" ry="7" fill="rgb(255,255,255)"/>
<ellipse cx="498" cy="145" rx="11" ry="16" fill="rgb(255,255,255)"/>
<path d="M509 171 L549 170 L551 190 L549 212 L511 213 L508 190 Z" fill="rgb(255,255,255)"/>
<ellipse cx="553" cy="192" rx="3.5" ry="19" fill="rgb(178,178,178)"/>
<ellipse cx="516" cy="212" rx="5" ry="2" fill="rgb(204,204,204)"/>
<ellipse cx="549" cy="137" rx="7" ry="9" fill="rgb(247,247,247)"/>
<ellipse cx="625" cy="89" rx="14" ry="15" fill="rgb(255,255,255)"/>
<path d="M699 160 L712 157 L717 170 L728 178 L733 195 L731 212 L722 220 L705 219 L698 206 L700 188 L697 172 Z" fill="rgb(255,255,255)"/>
<ellipse cx="716" cy="214" rx="12" ry="5" fill="rgb(214,214,214)"/>
<ellipse cx="695" cy="180" rx="4" ry="13" fill="rgb(199,199,199)"/>
<ellipse cx="625.3" cy="299" rx="11" ry="12" fill="rgb(255,255,255)"/>
<ellipse cx="518" cy="140" rx="10" ry="6" fill="rgb(242,242,242)"/>
<ellipse cx="530" cy="140" rx="6" ry="5" fill="rgb(204,204,204)"/>
<ellipse cx="535" cy="143" rx="6" ry="5" fill="rgb(158,158,158)"/>
<ellipse cx="563" cy="141" rx="7" ry="6" fill="rgb(189,189,189)"/>
<ellipse cx="576" cy="143" rx="5" ry="9" fill="rgb(140,140,140)"/>
<ellipse cx="569" cy="166" rx="11" ry="24" fill="rgb(255,255,255)"/>
<path d="M580 138 L618 136 L622 150 L618 168 L600 170 L582 166 Z" fill="rgb(204,204,204)"/>
<ellipse cx="602" cy="152" rx="9" ry="8" fill="rgb(194,194,194)"/>
<ellipse cx="590" cy="178" rx="18" ry="12" fill="rgb(255,255,255)"/>
<ellipse cx="623" cy="167" rx="12" ry="21" fill="rgb(153,153,153)"/>
<ellipse cx="626" cy="167" rx="5" ry="7" fill="rgb(143,143,143)"/>
<ellipse cx="647.5" cy="162" rx="13.5" ry="14" fill="rgb(255,255,255)"/>
<ellipse cx="680" cy="170" rx="18" ry="18" fill="rgb(128,128,128)"/>
<path d="M547 198 L578 196 L586 212 L586 236 L600 240 L614 245 L614 262 L590 266 L572 262 L566 248 L556 236 L552 232 L540 230 L540 214 L547 212 Z" fill="rgb(162,162,162)"/>
<path d="M553 236 L577 238 L578 256 L560 258 L553 250 Z" fill="rgb(147,147,147)"/>
<ellipse cx="558" cy="198" rx="5" ry="8" fill="rgb(145,145,145)"/>
<path d="M579 194 L610 193 L631 200 L631 240 L614 244 L600 240 L588 244 L580 236 L578 215 Z" fill="rgb(204,204,204)"/>
<ellipse cx="597" cy="227" rx="8" ry="17" fill="rgb(201,201,201)"/>
<path d="M566 185 L609 185 L609 194 L566 194 Z" fill="rgb(242,242,242)"/>
<ellipse cx="620" cy="208" rx="11" ry="10" fill="rgb(245,245,245)"/>
<ellipse cx="608" cy="264" rx="6" ry="8" fill="rgb(209,209,209)"/>
<ellipse cx="637" cy="197" rx="11" ry="12" fill="rgb(255,255,255)"/>
<ellipse cx="653.7" cy="220" rx="19" ry="21" fill="rgb(219,219,219)"/>
<ellipse cx="664" cy="218" rx="8" ry="18" fill="rgb(247,247,247)"/>
<ellipse cx="640" cy="265" rx="22" ry="20" fill="rgb(115,115,115)"/>
<ellipse cx="566" cy="278" rx="17" ry="12" fill="rgb(235,235,235)"/>
<ellipse cx="564" cy="277" rx="9" ry="7" fill="rgb(255,255,255)"/>
<ellipse cx="615" cy="279" rx="7" ry="6" fill="rgb(143,143,143)"/>
<rect x="515" y="146" width="43" height="24" fill="rgb(0,0,0)"/>
<rect x="509" y="213" width="29" height="27" fill="rgb(0,0,0)"/>
<ellipse cx="544" cy="229" rx="7" ry="2.5" fill="rgb(199,199,199)"/>
<ellipse cx="543.5" cy="249.5" rx="7" ry="2.5" fill="rgb(235,235,235)"/>
<rect x="537" y="231" width="14" height="17" fill="rgb(0,0,0)"/>
<rect x="571" y="94" width="26" height="40" fill="rgb(0,0,0)"/>
<rect x="580" y="167" width="17" height="13" fill="rgb(0,0,0)"/>
<rect x="612" y="101" width="20" height="17" fill="rgb(0,0,0)"/>
<rect x="650" y="171" width="28" height="27" fill="rgb(0,0,0)"/>
<rect x="583" y="266" width="20" height="25" fill="rgb(0,0,0)"/>
<rect x="649" y="185" width="22" height="11" fill="rgb(0,0,0)"/>
<ellipse cx="655" cy="76" rx="4" ry="5" fill="rgb(166,166,166)"/>
<ellipse cx="695" cy="254" rx="3" ry="10" fill="rgb(140,140,140)"/>
<ellipse cx="695" cy="266" rx="3" ry="3" fill="rgb(230,230,230)"/>
<ellipse cx="668" cy="303" rx="8" ry="2.5" fill="rgb(140,140,140)"/>
<ellipse cx="498" cy="288" rx="5" ry="6" fill="rgb(153,153,153)"/>
<ellipse cx="491" cy="222" rx="5" ry="9" fill="rgb(217,217,217)"/>
<ellipse cx="688" cy="190" rx="9" ry="5" fill="rgb(140,140,140)"/>
</g>
<ellipse cx="530" cy="191" rx="3" ry="2.7" fill="none" stroke="#7a0000" stroke-width="0.8"/>
<ellipse cx="530" cy="191" rx="6" ry="5.4" fill="none" stroke="#7a0000" stroke-width="0.8"/>
<ellipse cx="530" cy="191" rx="9" ry="8.1" fill="none" stroke="#7a0000" stroke-width="0.8"/>
<ellipse cx="530" cy="191" rx="12" ry="10.8" fill="none" stroke="#7a0000" stroke-width="0.8"/>
<ellipse cx="530" cy="191" rx="15" ry="13.5" fill="none" stroke="#7a0000" stroke-width="0.8"/>
<ellipse cx="530" cy="191" rx="18" ry="16.2" fill="none" stroke="#7a0000" stroke-width="0.8"/>
<path d="M514 172 Q530 163 546 171" fill="none" stroke="#1a9a1a" stroke-width="2.5"/>
<path d="M510 178 Q505 195 512 212" fill="none" stroke="#1a9a1a" stroke-width="1.5"/>
<ellipse cx="498" cy="145" rx="4" ry="5.2" fill="none" stroke="#000" stroke-width="0.9"/>
<ellipse cx="498" cy="145" rx="8" ry="10.4" fill="none" stroke="#000" stroke-width="0.9"/>
<ellipse cx="498" cy="145" rx="12" ry="15.6" fill="none" stroke="#000" stroke-width="0.9"/>
<ellipse cx="625" cy="89" rx="4" ry="4" fill="none" stroke="#000" stroke-width="0.9"/>
<ellipse cx="625" cy="89" rx="8" ry="8" fill="none" stroke="#000" stroke-width="0.9"/>
<ellipse cx="625" cy="89" rx="12" ry="12" fill="none" stroke="#000" stroke-width="0.9"/>
<ellipse cx="714.2" cy="199.7" rx="2" ry="2" fill="none" stroke="#300000" stroke-width="0.7"/>
<ellipse cx="714.2" cy="199.7" rx="4" ry="4" fill="none" stroke="#300000" stroke-width="0.7"/>
<ellipse cx="714.2" cy="199.7" rx="6" ry="6" fill="none" stroke="#300000" stroke-width="0.7"/>
<ellipse cx="714.2" cy="199.7" rx="8" ry="8" fill="none" stroke="#300000" stroke-width="0.7"/>
<ellipse cx="714.2" cy="199.7" rx="10" ry="10" fill="none" stroke="#300000" stroke-width="0.7"/>
<ellipse cx="714.2" cy="199.7" rx="12" ry="12" fill="none" stroke="#300000" stroke-width="0.7"/>
<ellipse cx="714.2" cy="199.7" rx="14" ry="14" fill="none" stroke="#300000" stroke-width="0.7"/>
<ellipse cx="714.2" cy="199.7" rx="16" ry="16" fill="none" stroke="#300000" stroke-width="0.7"/>
<ellipse cx="653.7" cy="220" rx="3" ry="3.3" fill="none" stroke="#000" stroke-width="0.9"/>
<ellipse cx="653.7" cy="220" rx="6" ry="6.6" fill="none" stroke="#000" stroke-width="0.9"/>
<ellipse cx="653.7" cy="220" rx="9" ry="9.9" fill="none" stroke="#000" stroke-width="0.9"/>
<ellipse cx="653.7" cy="220" rx="12" ry="13.2" fill="none" stroke="#000" stroke-width="0.9"/>
<ellipse cx="653.7" cy="220" rx="15" ry="16.5" fill="none" stroke="#000" stroke-width="0.9"/>
<ellipse cx="504" cy="98" rx="4" ry="4" fill="none" stroke="#000" stroke-width="0.9"/>
<ellipse cx="539" cy="82" rx="4" ry="5.2" fill="none" stroke="#000" stroke-width="0.6"/>
<ellipse cx="539" cy="82" rx="8" ry="10.4" fill="none" stroke="#000" stroke-width="0.6"/>
<ellipse cx="539" cy="82" rx="12" ry="15.6" fill="none" stroke="#000" stroke-width="0.6"/>
<ellipse cx="625.3" cy="299" rx="4" ry="4" fill="none" stroke="#000" stroke-width="0.9"/>
<ellipse cx="564" cy="277" rx="5" ry="4" fill="none" stroke="#000" stroke-width="0.9"/>
<ellipse cx="537" cy="82" rx="14.5" ry="16.675" fill="none" stroke="#2ec82e" stroke-width="1"/>
<ellipse cx="504" cy="98" rx="10" ry="8" fill="none" stroke="#2ec82e" stroke-width="1"/>
<ellipse cx="498" cy="145" rx="13" ry="17.55" fill="none" stroke="#2ec82e" stroke-width="1"/>
<ellipse cx="625" cy="89" rx="15.5" ry="16.275" fill="none" stroke="#2ec82e" stroke-width="1"/>
<path d="M702 214 Q716 226 731 214 M701 163 Q706 153 712 158" fill="none" stroke="#2ec82e" stroke-width="1.2"/>
<ellipse cx="625.3" cy="299" rx="12.5" ry="12.5" fill="none" stroke="#2ec82e" stroke-width="1"/>
<ellipse cx="638" cy="126.5" rx="5" ry="4.5" fill="none" stroke="#2ec82e" stroke-width="1"/>
<ellipse cx="638" cy="126.5" rx="11" ry="9.9" fill="none" stroke="#2ec82e" stroke-width="1"/>
<ellipse cx="653.7" cy="105" rx="5" ry="12" fill="none" stroke="#2ec82e" stroke-width="1" stroke-dasharray="2.2 1.8"/>
<ellipse cx="690" cy="87" rx="5" ry="10" fill="none" stroke="#2ec82e" stroke-width="1" stroke-dasharray="2.2 1.8"/>
<ellipse cx="696" cy="127" rx="7" ry="14" fill="none" stroke="#2ec82e" stroke-width="1" stroke-dasharray="2.2 1.8"/>
<ellipse cx="688.6" cy="213.4" rx="6" ry="6" fill="none" stroke="#2ec82e" stroke-width="1" stroke-dasharray="2.2 1.8"/>
<ellipse cx="723.6" cy="232" rx="6" ry="6" fill="none" stroke="#2ec82e" stroke-width="1" stroke-dasharray="2.2 1.8"/>
<ellipse cx="710.5" cy="263.6" rx="5" ry="5" fill="none" stroke="#2ec82e" stroke-width="1" stroke-dasharray="2.2 1.8"/>
<ellipse cx="532" cy="292" rx="5" ry="5" fill="none" stroke="#2ec82e" stroke-width="1" stroke-dasharray="2.2 1.8"/>
<ellipse cx="529.5" cy="114" rx="5" ry="9" fill="none" stroke="#2ec82e" stroke-width="1" stroke-dasharray="2.2 1.8"/>
<ellipse cx="506.5" cy="124.3" rx="3" ry="6" fill="none" stroke="#2ec82e" stroke-width="1" stroke-dasharray="2.2 1.8"/>
<ellipse cx="720" cy="212" rx="6" ry="6" fill="none" stroke="#2ec82e" stroke-width="1" stroke-dasharray="2.2 1.8"/>
<ellipse cx="500" cy="175" rx="3" ry="6" fill="none" stroke="#2ec82e" stroke-width="1" stroke-dasharray="2.2 1.8"/>
<ellipse cx="508" cy="262" rx="3" ry="6" fill="none" stroke="#2ec82e" stroke-width="1" stroke-dasharray="2.2 1.8"/>
<ellipse cx="667" cy="86.7" rx="4" ry="4" fill="none" stroke="#2ec82e" stroke-width="1"/>
<ellipse cx="699.6" cy="234" rx="6" ry="6" fill="none" stroke="#2ec82e" stroke-width="1"/>
<ellipse cx="693" cy="265.8" rx="7" ry="7" fill="none" stroke="#2ec82e" stroke-width="1"/>
<ellipse cx="683" cy="287.7" rx="2" ry="2" fill="none" stroke="#2ec82e" stroke-width="1"/>
<ellipse cx="723.6" cy="304" rx="4" ry="4" fill="none" stroke="#2ec82e" stroke-width="1"/>
<ellipse cx="498" cy="290" rx="5" ry="5" fill="none" stroke="#2ec82e" stroke-width="1"/>
<ellipse cx="656" cy="76" rx="5" ry="5" fill="none" stroke="#2ec82e" stroke-width="1"/>
<path d="M540.0 100.0 C541.0 102.7 543.3 111.0 546.0 116.0 C548.7 121.0 552.7 126.0 556.0 130.0 C559.3 134.0 564.3 138.3 566.0 140.0" fill="none" stroke="#2ec82e" stroke-width="1"/>
<path d="M616.0 118.0 C618.3 117.7 625.2 116.0 630.0 116.0 C634.8 116.0 640.8 116.5 645.0 118.0 C649.2 119.5 652.5 121.3 655.0 125.0 C657.5 128.7 659.2 137.5 660.0 140.0" fill="none" stroke="#2ec82e" stroke-width="1"/>
<path d="M660.0 250.0 C661.3 252.0 664.7 259.3 668.0 262.0 C671.3 264.7 676.3 264.7 680.0 266.0 C683.7 267.3 688.3 269.3 690.0 270.0" fill="none" stroke="#2ec82e" stroke-width="1"/>
<path d="M676.0 180.0 C677.7 180.8 683.0 181.7 686.0 185.0 C689.0 188.3 693.3 195.8 694.0 200.0 C694.7 204.2 690.7 208.3 690.0 210.0" fill="none" stroke="#2ec82e" stroke-width="1"/>
<path d="M548.0 222.0 C549.2 223.7 552.7 227.3 555.0 232.0 C557.3 236.7 559.2 245.0 562.0 250.0 C564.8 255.0 568.2 260.0 572.0 262.0 C575.8 264.0 582.8 262.0 585.0 262.0" fill="none" stroke="#2ec82e" stroke-width="1"/>
<path d="M520.0 245.0 C520.8 247.5 521.7 256.2 525.0 260.0 C528.3 263.8 536.2 263.8 540.0 268.0 C543.8 272.2 544.7 280.5 548.0 285.0 C551.3 289.5 558.0 293.3 560.0 295.0" fill="none" stroke="#2ec82e" stroke-width="1"/>
<path d="M569.0 202.6 C571.8 195.6 576.0 191.4 581.6 190.0 C587.2 188.6 595.6 192.1 602.6 194.2 C609.6 196.3 618.7 197.7 623.6 202.6 C628.5 207.5 631.3 216.6 632.0 223.6 C632.7 230.6 631.3 238.3 627.8 244.6 C624.3 250.9 617.3 257.9 611.0 261.4 C604.7 264.9 597.0 267.0 590.0 265.6 C583.0 264.2 573.2 258.6 569.0 253.0 C564.8 247.4 564.8 240.4 564.8 232.0 C564.8 223.6 566.2 209.6 569.0 202.6Z" fill="none" stroke="#000" stroke-width="0.9"/>
<path d="M560.0 195.0 C563.8 189.5 568.3 184.5 575.0 182.0 C581.7 179.5 590.8 178.7 600.0 180.0 C609.2 181.3 623.0 185.8 630.0 190.0 C637.0 194.2 639.5 198.3 642.0 205.0 C644.5 211.7 645.3 222.2 645.0 230.0 C644.7 237.8 643.3 245.3 640.0 252.0 C636.7 258.7 631.7 265.3 625.0 270.0 C618.3 274.7 608.3 278.0 600.0 280.0 C591.7 282.0 582.5 283.7 575.0 282.0 C567.5 280.3 559.5 276.2 555.0 270.0 C550.5 263.8 548.5 254.2 548.0 245.0 C547.5 235.8 550.0 223.3 552.0 215.0 C554.0 206.7 556.2 200.5 560.0 195.0Z" fill="none" stroke="#000" stroke-width="0.9"/>
<path d="M592.0 212.0 C594.7 208.7 602.7 206.3 606.0 208.0 C609.3 209.7 611.3 216.7 612.0 222.0 C612.7 227.3 612.0 235.3 610.0 240.0 C608.0 244.7 603.0 249.3 600.0 250.0 C597.0 250.7 593.7 247.7 592.0 244.0 C590.3 240.3 590.0 233.3 590.0 228.0 C590.0 222.7 589.3 215.3 592.0 212.0Z" fill="none" stroke="#000" stroke-width="0.9"/>
<ellipse cx="588" cy="223.6" rx="3" ry="3" fill="none" stroke="#000" stroke-width="0.9"/>
<path d="M590.0 142.0 C592.5 138.7 600.0 137.5 605.0 138.0 C610.0 138.5 615.5 141.7 620.0 145.0 C624.5 148.3 630.7 153.5 632.0 158.0 C633.3 162.5 631.3 169.0 628.0 172.0 C624.7 175.0 617.0 176.3 612.0 176.0 C607.0 175.7 601.7 173.0 598.0 170.0 C594.3 167.0 591.3 162.7 590.0 158.0 C588.7 153.3 587.5 145.3 590.0 142.0Z" fill="none" stroke="#000" stroke-width="0.9"/>
<path d="M600.0 150.0 C601.3 147.3 608.7 147.0 612.0 148.0 C615.3 149.0 619.5 153.0 620.0 156.0 C620.5 159.0 617.7 164.7 615.0 166.0 C612.3 167.3 606.5 166.7 604.0 164.0 C601.5 161.3 598.7 152.7 600.0 150.0Z" fill="none" stroke="#000" stroke-width="0.9"/>
<path d="M556.0 150.0 C557.5 148.7 561.0 143.7 565.0 142.0 C569.0 140.3 576.8 138.7 580.0 140.0 C583.2 141.3 584.3 145.8 584.0 150.0 C583.7 154.2 579.0 162.5 578.0 165.0" fill="none" stroke="#000" stroke-width="0.9"/>
<rect x="525.6" y="273.2" width="2.9" height="2.9" rx="0.5" fill="#fff" transform="rotate(45 527.1 274.6)"/>
<rect x="530.4" y="269.6" width="2.9" height="2.9" rx="0.5" fill="#fff" transform="rotate(45 531.9 271.0)"/>
<rect x="535.2" y="266.0" width="2.9" height="2.9" rx="0.5" fill="#fff" transform="rotate(45 536.7 267.5)"/>
<rect x="540.0" y="262.5" width="2.9" height="2.9" rx="0.5" fill="#fff" transform="rotate(45 541.5 263.9)"/>
<rect x="544.8" y="258.9" width="2.9" height="2.9" rx="0.5" fill="#fff" transform="rotate(45 546.3 260.4)"/>
<rect x="549.6" y="255.4" width="2.9" height="2.9" rx="0.5" fill="#fff" transform="rotate(45 551.1 256.8)"/>
<rect x="554.4" y="251.8" width="2.9" height="2.9" rx="0.5" fill="#fff" transform="rotate(45 555.9 253.3)"/>
<rect x="559.2" y="248.3" width="2.9" height="2.9" rx="0.5" fill="#fff" transform="rotate(45 560.7 249.7)"/>
<rect x="564.0" y="244.7" width="2.9" height="2.9" rx="0.5" fill="#fff" transform="rotate(45 565.5 246.1)"/>
<rect x="568.8" y="241.1" width="2.9" height="2.9" rx="0.5" fill="#fff" transform="rotate(45 570.3 242.6)"/>
<rect x="573.6" y="237.6" width="2.9" height="2.9" rx="0.5" fill="#fff" transform="rotate(45 575.1 239.0)"/>
<rect x="578.4" y="234.0" width="2.9" height="2.9" rx="0.5" fill="#fff" transform="rotate(45 579.9 235.5)"/>
<rect x="583.2" y="230.5" width="2.9" height="2.9" rx="0.5" fill="#fff" transform="rotate(45 584.7 231.9)"/>
<rect x="588.0" y="226.9" width="2.9" height="2.9" rx="0.5" fill="#fff" transform="rotate(45 589.5 228.4)"/>
<rect x="592.8" y="223.4" width="2.9" height="2.9" rx="0.5" fill="#fff" transform="rotate(45 594.3 224.8)"/>
</g>
<text x="139.2" y="34.6" font-size="25" font-weight="bold" fill="#120a78" textLength="72.4" lengthAdjust="spacingAndGlyphs">A2163</text>
<text x="396" y="34.6" font-size="25" font-weight="bold" fill="#120a78" textLength="62.8" lengthAdjust="spacingAndGlyphs">A665</text>
<text x="474.5" y="32.9" font-family="Liberation Serif" font-size="16.5" fill="#111" textLength="14.2" lengthAdjust="spacingAndGlyphs">-2</text>
<text x="575.3" y="32.9" font-family="Liberation Serif" font-size="16" fill="#111">-1.5</text>
<text x="691.3" y="32.9" font-family="Liberation Serif" font-size="16.5" fill="#111" textLength="13.6" lengthAdjust="spacingAndGlyphs">-1</text>
<rect x="110" y="81.5" width="264" height="12" fill="url(#gL)"/>
<rect x="109.5" y="81" width="265" height="235.2" fill="none" stroke="#e8e830" stroke-width="1.4"/>
<line x1="109.5" y1="94" x2="374.5" y2="94" stroke="#e8e830" stroke-width="1.4"/>
<line x1="162.2" y1="81" x2="162.2" y2="86" stroke="#e8e830" stroke-width="1"/>
<line x1="215.3" y1="81" x2="215.3" y2="86" stroke="#e8e830" stroke-width="1"/>
<line x1="268" y1="81" x2="268" y2="86" stroke="#e8e830" stroke-width="1"/>
<line x1="321.7" y1="81" x2="321.7" y2="86" stroke="#e8e830" stroke-width="1"/>
<text x="136" y="76.5" font-family="Liberation Mono" font-size="11" fill="#e8e830" textLength="28" lengthAdjust="spacingAndGlyphs">-1.6</text>
<text x="189" y="76.5" font-family="Liberation Mono" font-size="11" fill="#e8e830" textLength="28" lengthAdjust="spacingAndGlyphs">-1.4</text>
<text x="242" y="76.5" font-family="Liberation Mono" font-size="11" fill="#e8e830" textLength="28" lengthAdjust="spacingAndGlyphs">-1.2</text>
<text x="295" y="76.5" font-family="Liberation Mono" font-size="11" fill="#e8e830" textLength="28" lengthAdjust="spacingAndGlyphs">-1.0</text>
<line x1="122" y1="94" x2="122" y2="100" stroke="#e8e830" stroke-width="1.2"/>
<line x1="122" y1="316" x2="122" y2="309" stroke="#e8e830" stroke-width="1.2"/>
<line x1="166.4" y1="94" x2="166.4" y2="100" stroke="#e8e830" stroke-width="1.2"/>
<line x1="166.4" y1="316" x2="166.4" y2="309" stroke="#e8e830" stroke-width="1.2"/>
<line x1="210.2" y1="94" x2="210.2" y2="100" stroke="#e8e830" stroke-width="1.2"/>
<line x1="210.2" y1="316" x2="210.2" y2="309" stroke="#e8e830" stroke-width="1.2"/>
<line x1="254.3" y1="94" x2="254.3" y2="100" stroke="#e8e830" stroke-width="1.2"/>
<line x1="254.3" y1="316" x2="254.3" y2="309" stroke="#e8e830" stroke-width="1.2"/>
<line x1="298.4" y1="94" x2="298.4" y2="100" stroke="#e8e830" stroke-width="1.2"/>
<line x1="298.4" y1="316" x2="298.4" y2="309" stroke="#e8e830" stroke-width="1.2"/>
<line x1="342.6" y1="94" x2="342.6" y2="100" stroke="#e8e830" stroke-width="1.2"/>
<line x1="342.6" y1="316" x2="342.6" y2="309" stroke="#e8e830" stroke-width="1.2"/>
<line x1="109.5" y1="107" x2="116" y2="107" stroke="#e8e830" stroke-width="1.2"/>
<line x1="374.5" y1="107" x2="368" y2="107" stroke="#e8e830" stroke-width="1.2"/>
<line x1="109.5" y1="130.6" x2="116" y2="130.6" stroke="#e8e830" stroke-width="1.2"/>
<line x1="374.5" y1="130.6" x2="368" y2="130.6" stroke="#e8e830" stroke-width="1.2"/>
<line x1="109.5" y1="154.9" x2="116" y2="154.9" stroke="#e8e830" stroke-width="1.2"/>
<line x1="374.5" y1="154.9" x2="368" y2="154.9" stroke="#e8e830" stroke-width="1.2"/>
<line x1="109.5" y1="178" x2="116" y2="178" stroke="#e8e830" stroke-width="1.2"/>
<line x1="374.5" y1="178" x2="368" y2="178" stroke="#e8e830" stroke-width="1.2"/>
<line x1="109.5" y1="201.8" x2="116" y2="201.8" stroke="#e8e830" stroke-width="1.2"/>
<line x1="374.5" y1="201.8" x2="368" y2="201.8" stroke="#e8e830" stroke-width="1.2"/>
<line x1="109.5" y1="226.5" x2="116" y2="226.5" stroke="#e8e830" stroke-width="1.2"/>
<line x1="374.5" y1="226.5" x2="368" y2="226.5" stroke="#e8e830" stroke-width="1.2"/>
<line x1="109.5" y1="249.7" x2="116" y2="249.7" stroke="#e8e830" stroke-width="1.2"/>
<line x1="374.5" y1="249.7" x2="368" y2="249.7" stroke="#e8e830" stroke-width="1.2"/>
<line x1="109.5" y1="272.9" x2="116" y2="272.9" stroke="#e8e830" stroke-width="1.2"/>
<line x1="374.5" y1="272.9" x2="368" y2="272.9" stroke="#e8e830" stroke-width="1.2"/>
<line x1="109.5" y1="296.6" x2="116" y2="296.6" stroke="#e8e830" stroke-width="1.2"/>
<line x1="374.5" y1="296.6" x2="368" y2="296.6" stroke="#e8e830" stroke-width="1.2"/>
<text x="55" y="111" font-family="Liberation Mono" font-weight="bold" stroke="#000" stroke-width="0.35" font-size="12.5" fill="#e8e830">-06 00</text>
<text x="85.5" y="134.6" font-family="Liberation Mono" font-weight="bold" stroke="#000" stroke-width="0.35" font-size="12.5" fill="#e8e830">02</text>
<text x="85.5" y="158.9" font-family="Liberation Mono" font-weight="bold" stroke="#000" stroke-width="0.35" font-size="12.5" fill="#e8e830">04</text>
<text x="85.5" y="182" font-family="Liberation Mono" font-weight="bold" stroke="#000" stroke-width="0.35" font-size="12.5" fill="#e8e830">06</text>
<text x="85.5" y="205.8" font-family="Liberation Mono" font-weight="bold" stroke="#000" stroke-width="0.35" font-size="12.5" fill="#e8e830">08</text>
<text x="85.5" y="230.5" font-family="Liberation Mono" font-weight="bold" stroke="#000" stroke-width="0.35" font-size="12.5" fill="#e8e830">10</text>
<text x="85.5" y="253.7" font-family="Liberation Mono" font-weight="bold" stroke="#000" stroke-width="0.35" font-size="12.5" fill="#e8e830">12</text>
<text x="85.5" y="276.9" font-family="Liberation Mono" font-weight="bold" stroke="#000" stroke-width="0.35" font-size="12.5" fill="#e8e830">14</text>
<text x="85.5" y="300.6" font-family="Liberation Mono" font-weight="bold" stroke="#000" stroke-width="0.35" font-size="12.5" fill="#e8e830">16</text>
<text x="42" y="119.9" font-family="Liberation Mono" font-weight="bold" stroke="#000" stroke-width="0.35" font-size="10.5" fill="#e8e830" text-anchor="middle">D</text>
<text x="42" y="130" font-family="Liberation Mono" font-weight="bold" stroke="#000" stroke-width="0.35" font-size="10.5" fill="#e8e830" text-anchor="middle">E</text>
<text x="42" y="140.1" font-family="Liberation Mono" font-weight="bold" stroke="#000" stroke-width="0.35" font-size="10.5" fill="#e8e830" text-anchor="middle">C</text>
<text x="42" y="150.2" font-family="Liberation Mono" font-weight="bold" stroke="#000" stroke-width="0.35" font-size="10.5" fill="#e8e830" text-anchor="middle">L</text>
<text x="42" y="160.3" font-family="Liberation Mono" font-weight="bold" stroke="#000" stroke-width="0.35" font-size="10.5" fill="#e8e830" text-anchor="middle">I</text>
<text x="42" y="170.4" font-family="Liberation Mono" font-weight="bold" stroke="#000" stroke-width="0.35" font-size="10.5" fill="#e8e830" text-anchor="middle">N</text>
<text x="42" y="180.5" font-family="Liberation Mono" font-weight="bold" stroke="#000" stroke-width="0.35" font-size="10.5" fill="#e8e830" text-anchor="middle">A</text>
<text x="42" y="190.6" font-family="Liberation Mono" font-weight="bold" stroke="#000" stroke-width="0.35" font-size="10.5" fill="#e8e830" text-anchor="middle">T</text>
<text x="42" y="200.7" font-family="Liberation Mono" font-weight="bold" stroke="#000" stroke-width="0.35" font-size="10.5" fill="#e8e830" text-anchor="middle">I</text>
<text x="42" y="210.8" font-family="Liberation Mono" font-weight="bold" stroke="#000" stroke-width="0.35" font-size="10.5" fill="#e8e830" text-anchor="middle">O</text>
<text x="42" y="220.9" font-family="Liberation Mono" font-weight="bold" stroke="#000" stroke-width="0.35" font-size="10.5" fill="#e8e830" text-anchor="middle">N</text>
<text x="42" y="241.1" font-family="Liberation Mono" font-weight="bold" stroke="#000" stroke-width="0.35" font-size="10.5" fill="#e8e830" text-anchor="middle">(</text>
<text x="42" y="251.2" font-family="Liberation Mono" font-weight="bold" stroke="#000" stroke-width="0.35" font-size="10.5" fill="#e8e830" text-anchor="middle">J</text>
<text x="42" y="261.3" font-family="Liberation Mono" font-weight="bold" stroke="#000" stroke-width="0.35" font-size="10.5" fill="#e8e830" text-anchor="middle">2</text>
<text x="42" y="271.4" font-family="Liberation Mono" font-weight="bold" stroke="#000" stroke-width="0.35" font-size="10.5" fill="#e8e830" text-anchor="middle">0</text>
<text x="42" y="281.5" font-family="Liberation Mono" font-weight="bold" stroke="#000" stroke-width="0.35" font-size="10.5" fill="#e8e830" text-anchor="middle">0</text>
<text x="42" y="291.6" font-family="Liberation Mono" font-weight="bold" stroke="#000" stroke-width="0.35" font-size="10.5" fill="#e8e830" text-anchor="middle">0</text>
<text x="42" y="301.7" font-family="Liberation Mono" font-weight="bold" stroke="#000" stroke-width="0.35" font-size="10.5" fill="#e8e830" text-anchor="middle">)</text>
<text x="63" y="332.2" font-family="Liberation Mono" font-weight="bold" stroke="#000" stroke-width="0.35" font-size="12.5" fill="#e8e830" textLength="61.5" lengthAdjust="spacingAndGlyphs">16 16 30</text>
<text x="154.7" y="332.2" font-family="Liberation Mono" font-weight="bold" stroke="#000" stroke-width="0.35" font-size="12.5" fill="#e8e830">15</text>
<text x="198.9" y="332.2" font-family="Liberation Mono" font-weight="bold" stroke="#000" stroke-width="0.35" font-size="12.5" fill="#e8e830">00 15 45</text>
<text x="285.4" y="332.2" font-family="Liberation Mono" font-weight="bold" stroke="#000" stroke-width="0.35" font-size="12.5" fill="#e8e830">30</text>
<text x="331.3" y="332.2" font-family="Liberation Mono" font-weight="bold" stroke="#000" stroke-width="0.35" font-size="12.5" fill="#e8e830">15</text>
<text x="152.3" y="344.5" font-family="Liberation Mono" font-weight="bold" stroke="#000" stroke-width="0.35" font-size="12.5" fill="#e8e830" textLength="179" lengthAdjust="spacingAndGlyphs">RIGHT ASCENSION (J2000)</text>
<rect x="487.5" y="52" width="255" height="13.3" fill="url(#gR)"/>
<rect x="487" y="51.6" width="255.6" height="260.8" fill="none" stroke="#a8a040" stroke-width="1.1"/>
<line x1="487" y1="65.4" x2="742.6" y2="65.4" stroke="#a8a040" stroke-width="1.1"/>
<line x1="592" y1="52" x2="592" y2="56" stroke="#a8a040" stroke-width="0.8"/>
<line x1="697" y1="52" x2="697" y2="56" stroke="#a8a040" stroke-width="0.8"/>
<text x="483.5" y="49.5" font-family="Liberation Mono" font-weight="bold" font-size="5.5" fill="#a8a040" text-anchor="middle">2.0</text>
<text x="590" y="49.5" font-family="Liberation Mono" font-weight="bold" font-size="5.5" fill="#a8a040" text-anchor="middle">1.5</text>
<text x="696" y="49.5" font-family="Liberation Mono" font-weight="bold" font-size="5.5" fill="#a8a040" text-anchor="middle">1.0</text>
<text x="484" y="92.9" font-family="Liberation Mono" font-weight="bold" font-size="6" fill="#a8a040" text-anchor="end">65 58</text>
<line x1="487" y1="90.9" x2="492" y2="90.9" stroke="#a8a040" stroke-width="1"/>
<line x1="742.6" y1="90.9" x2="737.6" y2="90.9" stroke="#a8a040" stroke-width="1"/>
<text x="484" y="128.2" font-family="Liberation Mono" font-weight="bold" font-size="6" fill="#a8a040" text-anchor="end">56</text>
<line x1="487" y1="126.2" x2="492" y2="126.2" stroke="#a8a040" stroke-width="1"/>
<line x1="742.6" y1="126.2" x2="737.6" y2="126.2" stroke="#a8a040" stroke-width="1"/>
<text x="484" y="163.6" font-family="Liberation Mono" font-weight="bold" font-size="6" fill="#a8a040" text-anchor="end">54</text>
<line x1="487" y1="161.6" x2="492" y2="161.6" stroke="#a8a040" stroke-width="1"/>
<line x1="742.6" y1="161.6" x2="737.6" y2="161.6" stroke="#a8a040" stroke-width="1"/>
<text x="484" y="199" font-family="Liberation Mono" font-weight="bold" font-size="6" fill="#a8a040" text-anchor="end">52</text>
<line x1="487" y1="197" x2="492" y2="197" stroke="#a8a040" stroke-width="1"/>
<line x1="742.6" y1="197" x2="737.6" y2="197" stroke="#a8a040" stroke-width="1"/>
<text x="484" y="234.4" font-family="Liberation Mono" font-weight="bold" font-size="6" fill="#a8a040" text-anchor="end">50</text>
<line x1="487" y1="232.4" x2="492" y2="232.4" stroke="#a8a040" stroke-width="1"/>
<line x1="742.6" y1="232.4" x2="737.6" y2="232.4" stroke="#a8a040" stroke-width="1"/>
<text x="484" y="269.8" font-family="Liberation Mono" font-weight="bold" font-size="6" fill="#a8a040" text-anchor="end">48</text>
<line x1="487" y1="267.8" x2="492" y2="267.8" stroke="#a8a040" stroke-width="1"/>
<line x1="742.6" y1="267.8" x2="737.6" y2="267.8" stroke="#a8a040" stroke-width="1"/>
<text x="484" y="305.7" font-family="Liberation Mono" font-weight="bold" font-size="6" fill="#a8a040" text-anchor="end">46</text>
<line x1="487" y1="303.7" x2="492" y2="303.7" stroke="#a8a040" stroke-width="1"/>
<line x1="742.6" y1="303.7" x2="737.6" y2="303.7" stroke="#a8a040" stroke-width="1"/>
<line x1="509.8" y1="312.4" x2="509.8" y2="307" stroke="#a8a040" stroke-width="1"/>
<line x1="509.8" y1="65.4" x2="509.8" y2="70" stroke="#a8a040" stroke-width="1"/>
<line x1="533.6" y1="312.4" x2="533.6" y2="307" stroke="#a8a040" stroke-width="1"/>
<line x1="533.6" y1="65.4" x2="533.6" y2="70" stroke="#a8a040" stroke-width="1"/>
<line x1="560.8" y1="312.4" x2="560.8" y2="307" stroke="#a8a040" stroke-width="1"/>
<line x1="560.8" y1="65.4" x2="560.8" y2="70" stroke="#a8a040" stroke-width="1"/>
<line x1="587.3" y1="312.4" x2="587.3" y2="307" stroke="#a8a040" stroke-width="1"/>
<line x1="587.3" y1="65.4" x2="587.3" y2="70" stroke="#a8a040" stroke-width="1"/>
<line x1="613.8" y1="312.4" x2="613.8" y2="307" stroke="#a8a040" stroke-width="1"/>
<line x1="613.8" y1="65.4" x2="613.8" y2="70" stroke="#a8a040" stroke-width="1"/>
<line x1="642.2" y1="312.4" x2="642.2" y2="307" stroke="#a8a040" stroke-width="1"/>
<line x1="642.2" y1="65.4" x2="642.2" y2="70" stroke="#a8a040" stroke-width="1"/>
<line x1="668.7" y1="312.4" x2="668.7" y2="307" stroke="#a8a040" stroke-width="1"/>
<line x1="668.7" y1="65.4" x2="668.7" y2="70" stroke="#a8a040" stroke-width="1"/>
<line x1="695.2" y1="312.4" x2="695.2" y2="307" stroke="#a8a040" stroke-width="1"/>
<line x1="695.2" y1="65.4" x2="695.2" y2="70" stroke="#a8a040" stroke-width="1"/>
<line x1="722.4" y1="312.4" x2="722.4" y2="307" stroke="#a8a040" stroke-width="1"/>
<line x1="722.4" y1="65.4" x2="722.4" y2="70" stroke="#a8a040" stroke-width="1"/>
<text x="497" y="320" font-family="Liberation Mono" font-weight="bold" font-size="5.8" fill="#a8a040" text-anchor="middle">00 31 45</text>
<text x="533.8" y="320" font-family="Liberation Mono" font-weight="bold" font-size="5.8" fill="#a8a040" text-anchor="middle">30</text>
<text x="561.3" y="320" font-family="Liberation Mono" font-weight="bold" font-size="5.8" fill="#a8a040" text-anchor="middle">15</text>
<text x="601.5" y="320" font-family="Liberation Mono" font-weight="bold" font-size="5.8" fill="#a8a040" text-anchor="middle">00 30 45</text>
<text x="644.5" y="320" font-family="Liberation Mono" font-weight="bold" font-size="5.8" fill="#a8a040" text-anchor="middle">30</text>
<text x="671" y="320" font-family="Liberation Mono" font-weight="bold" font-size="5.8" fill="#a8a040" text-anchor="middle">15</text>
<text x="712" y="320" font-family="Liberation Mono" font-weight="bold" font-size="5.8" fill="#a8a040" text-anchor="middle">00 29 45</text>
<text x="613.4" y="328" font-family="Liberation Mono" font-weight="bold" font-size="5.8" fill="#a8a040" text-anchor="middle" textLength="80" lengthAdjust="spacingAndGlyphs">RIGHT ASCENSION (J2000)</text>
<text x="0" y="0" font-family="Liberation Mono" font-weight="bold" font-size="5.5" fill="#a8a040" text-anchor="middle" textLength="86" lengthAdjust="spacingAndGlyphs" transform="translate(458,178) rotate(90)">DECLINATION (J2000)</text>
<rect x="126.7" y="359" width="199.2" height="198.8" fill="#fff"/>
<rect x="476.8" y="340" width="220.8" height="216.1" fill="#fff"/>
<rect x="148.3" y="370.2" width="166.4" height="166" fill="none" stroke="#8a8a8a" stroke-width="0.8"/>
<line x1="148.3" y1="536.2" x2="148.3" y2="532.2" stroke="#8a8a8a" stroke-width="0.6"/>
<line x1="148.3" y1="370.2" x2="148.3" y2="374.2" stroke="#8a8a8a" stroke-width="0.6"/>
<line x1="155.0" y1="536.2" x2="155.0" y2="534.2" stroke="#8a8a8a" stroke-width="0.6"/>
<line x1="155.0" y1="370.2" x2="155.0" y2="372.2" stroke="#8a8a8a" stroke-width="0.6"/>
<line x1="161.6" y1="536.2" x2="161.6" y2="534.2" stroke="#8a8a8a" stroke-width="0.6"/>
<line x1="161.6" y1="370.2" x2="161.6" y2="372.2" stroke="#8a8a8a" stroke-width="0.6"/>
<line x1="168.3" y1="536.2" x2="168.3" y2="534.2" stroke="#8a8a8a" stroke-width="0.6"/>
<line x1="168.3" y1="370.2" x2="168.3" y2="372.2" stroke="#8a8a8a" stroke-width="0.6"/>
<line x1="175.0" y1="536.2" x2="175.0" y2="534.2" stroke="#8a8a8a" stroke-width="0.6"/>
<line x1="175.0" y1="370.2" x2="175.0" y2="372.2" stroke="#8a8a8a" stroke-width="0.6"/>
<line x1="181.6" y1="536.2" x2="181.6" y2="532.2" stroke="#8a8a8a" stroke-width="0.6"/>
<line x1="181.6" y1="370.2" x2="181.6" y2="374.2" stroke="#8a8a8a" stroke-width="0.6"/>
<line x1="188.3" y1="536.2" x2="188.3" y2="534.2" stroke="#8a8a8a" stroke-width="0.6"/>
<line x1="188.3" y1="370.2" x2="188.3" y2="372.2" stroke="#8a8a8a" stroke-width="0.6"/>
<line x1="195.0" y1="536.2" x2="195.0" y2="534.2" stroke="#8a8a8a" stroke-width="0.6"/>
<line x1="195.0" y1="370.2" x2="195.0" y2="372.2" stroke="#8a8a8a" stroke-width="0.6"/>
<line x1="201.6" y1="536.2" x2="201.6" y2="534.2" stroke="#8a8a8a" stroke-width="0.6"/>
<line x1="201.6" y1="370.2" x2="201.6" y2="372.2" stroke="#8a8a8a" stroke-width="0.6"/>
<line x1="208.3" y1="536.2" x2="208.3" y2="534.2" stroke="#8a8a8a" stroke-width="0.6"/>
<line x1="208.3" y1="370.2" x2="208.3" y2="372.2" stroke="#8a8a8a" stroke-width="0.6"/>
<line x1="215.0" y1="536.2" x2="215.0" y2="532.2" stroke="#8a8a8a" stroke-width="0.6"/>
<line x1="215.0" y1="370.2" x2="215.0" y2="374.2" stroke="#8a8a8a" stroke-width="0.6"/>
<line x1="221.6" y1="536.2" x2="221.6" y2="534.2" stroke="#8a8a8a" stroke-width="0.6"/>
<line x1="221.6" y1="370.2" x2="221.6" y2="372.2" stroke="#8a8a8a" stroke-width="0.6"/>
<line x1="228.3" y1="536.2" x2="228.3" y2="534.2" stroke="#8a8a8a" stroke-width="0.6"/>
<line x1="228.3" y1="370.2" x2="228.3" y2="372.2" stroke="#8a8a8a" stroke-width="0.6"/>
<line x1="235.0" y1="536.2" x2="235.0" y2="534.2" stroke="#8a8a8a" stroke-width="0.6"/>
<line x1="235.0" y1="370.2" x2="235.0" y2="372.2" stroke="#8a8a8a" stroke-width="0.6"/>
<line x1="241.7" y1="536.2" x2="241.7" y2="534.2" stroke="#8a8a8a" stroke-width="0.6"/>
<line x1="241.7" y1="370.2" x2="241.7" y2="372.2" stroke="#8a8a8a" stroke-width="0.6"/>
<line x1="248.3" y1="536.2" x2="248.3" y2="532.2" stroke="#8a8a8a" stroke-width="0.6"/>
<line x1="248.3" y1="370.2" x2="248.3" y2="374.2" stroke="#8a8a8a" stroke-width="0.6"/>
<line x1="255.0" y1="536.2" x2="255.0" y2="534.2" stroke="#8a8a8a" stroke-width="0.6"/>
<line x1="255.0" y1="370.2" x2="255.0" y2="372.2" stroke="#8a8a8a" stroke-width="0.6"/>
<line x1="261.7" y1="536.2" x2="261.7" y2="534.2" stroke="#8a8a8a" stroke-width="0.6"/>
<line x1="261.7" y1="370.2" x2="261.7" y2="372.2" stroke="#8a8a8a" stroke-width="0.6"/>
<line x1="268.3" y1="536.2" x2="268.3" y2="534.2" stroke="#8a8a8a" stroke-width="0.6"/>
<line x1="268.3" y1="370.2" x2="268.3" y2="372.2" stroke="#8a8a8a" stroke-width="0.6"/>
<line x1="275.0" y1="536.2" x2="275.0" y2="534.2" stroke="#8a8a8a" stroke-width="0.6"/>
<line x1="275.0" y1="370.2" x2="275.0" y2="372.2" stroke="#8a8a8a" stroke-width="0.6"/>
<line x1="281.7" y1="536.2" x2="281.7" y2="532.2" stroke="#8a8a8a" stroke-width="0.6"/>
<line x1="281.7" y1="370.2" x2="281.7" y2="374.2" stroke="#8a8a8a" stroke-width="0.6"/>
<line x1="288.3" y1="536.2" x2="288.3" y2="534.2" stroke="#8a8a8a" stroke-width="0.6"/>
<line x1="288.3" y1="370.2" x2="288.3" y2="372.2" stroke="#8a8a8a" stroke-width="0.6"/>
<line x1="295.0" y1="536.2" x2="295.0" y2="534.2" stroke="#8a8a8a" stroke-width="0.6"/>
<line x1="295.0" y1="370.2" x2="295.0" y2="372.2" stroke="#8a8a8a" stroke-width="0.6"/>
<line x1="301.7" y1="536.2" x2="301.7" y2="534.2" stroke="#8a8a8a" stroke-width="0.6"/>
<line x1="301.7" y1="370.2" x2="301.7" y2="372.2" stroke="#8a8a8a" stroke-width="0.6"/>
<line x1="308.3" y1="536.2" x2="308.3" y2="534.2" stroke="#8a8a8a" stroke-width="0.6"/>
<line x1="308.3" y1="370.2" x2="308.3" y2="372.2" stroke="#8a8a8a" stroke-width="0.6"/>
<line x1="315.0" y1="536.2" x2="315.0" y2="532.2" stroke="#8a8a8a" stroke-width="0.6"/>
<line x1="315.0" y1="370.2" x2="315.0" y2="374.2" stroke="#8a8a8a" stroke-width="0.6"/>
<line x1="148.3" y1="536.2" x2="152.3" y2="536.2" stroke="#8a8a8a" stroke-width="0.6"/>
<line x1="314.7" y1="536.2" x2="310.7" y2="536.2" stroke="#8a8a8a" stroke-width="0.6"/>
<line x1="148.3" y1="528.7" x2="150.3" y2="528.7" stroke="#8a8a8a" stroke-width="0.6"/>
<line x1="314.7" y1="528.7" x2="312.7" y2="528.7" stroke="#8a8a8a" stroke-width="0.6"/>
<line x1="148.3" y1="521.2" x2="150.3" y2="521.2" stroke="#8a8a8a" stroke-width="0.6"/>
<line x1="314.7" y1="521.2" x2="312.7" y2="521.2" stroke="#8a8a8a" stroke-width="0.6"/>
<line x1="148.3" y1="513.7" x2="150.3" y2="513.7" stroke="#8a8a8a" stroke-width="0.6"/>
<line x1="314.7" y1="513.7" x2="312.7" y2="513.7" stroke="#8a8a8a" stroke-width="0.6"/>
<line x1="148.3" y1="506.2" x2="152.3" y2="506.2" stroke="#8a8a8a" stroke-width="0.6"/>
<line x1="314.7" y1="506.2" x2="310.7" y2="506.2" stroke="#8a8a8a" stroke-width="0.6"/>
<line x1="148.3" y1="498.7" x2="150.3" y2="498.7" stroke="#8a8a8a" stroke-width="0.6"/>
<line x1="314.7" y1="498.7" x2="312.7" y2="498.7" stroke="#8a8a8a" stroke-width="0.6"/>
<line x1="148.3" y1="491.2" x2="150.3" y2="491.2" stroke="#8a8a8a" stroke-width="0.6"/>
<line x1="314.7" y1="491.2" x2="312.7" y2="491.2" stroke="#8a8a8a" stroke-width="0.6"/>
<line x1="148.3" y1="483.7" x2="150.3" y2="483.7" stroke="#8a8a8a" stroke-width="0.6"/>
<line x1="314.7" y1="483.7" x2="312.7" y2="483.7" stroke="#8a8a8a" stroke-width="0.6"/>
<line x1="148.3" y1="476.2" x2="152.3" y2="476.2" stroke="#8a8a8a" stroke-width="0.6"/>
<line x1="314.7" y1="476.2" x2="310.7" y2="476.2" stroke="#8a8a8a" stroke-width="0.6"/>
<line x1="148.3" y1="468.7" x2="150.3" y2="468.7" stroke="#8a8a8a" stroke-width="0.6"/>
<line x1="314.7" y1="468.7" x2="312.7" y2="468.7" stroke="#8a8a8a" stroke-width="0.6"/>
<line x1="148.3" y1="461.2" x2="150.3" y2="461.2" stroke="#8a8a8a" stroke-width="0.6"/>
<line x1="314.7" y1="461.2" x2="312.7" y2="461.2" stroke="#8a8a8a" stroke-width="0.6"/>
<line x1="148.3" y1="453.7" x2="150.3" y2="453.7" stroke="#8a8a8a" stroke-width="0.6"/>
<line x1="314.7" y1="453.7" x2="312.7" y2="453.7" stroke="#8a8a8a" stroke-width="0.6"/>
<line x1="148.3" y1="446.2" x2="152.3" y2="446.2" stroke="#8a8a8a" stroke-width="0.6"/>
<line x1="314.7" y1="446.2" x2="310.7" y2="446.2" stroke="#8a8a8a" stroke-width="0.6"/>
<line x1="148.3" y1="438.7" x2="150.3" y2="438.7" stroke="#8a8a8a" stroke-width="0.6"/>
<line x1="314.7" y1="438.7" x2="312.7" y2="438.7" stroke="#8a8a8a" stroke-width="0.6"/>
<line x1="148.3" y1="431.2" x2="150.3" y2="431.2" stroke="#8a8a8a" stroke-width="0.6"/>
<line x1="314.7" y1="431.2" x2="312.7" y2="431.2" stroke="#8a8a8a" stroke-width="0.6"/>
<line x1="148.3" y1="423.7" x2="150.3" y2="423.7" stroke="#8a8a8a" stroke-width="0.6"/>
<line x1="314.7" y1="423.7" x2="312.7" y2="423.7" stroke="#8a8a8a" stroke-width="0.6"/>
<line x1="148.3" y1="416.2" x2="152.3" y2="416.2" stroke="#8a8a8a" stroke-width="0.6"/>
<line x1="314.7" y1="416.2" x2="310.7" y2="416.2" stroke="#8a8a8a" stroke-width="0.6"/>
<line x1="148.3" y1="408.7" x2="150.3" y2="408.7" stroke="#8a8a8a" stroke-width="0.6"/>
<line x1="314.7" y1="408.7" x2="312.7" y2="408.7" stroke="#8a8a8a" stroke-width="0.6"/>
<line x1="148.3" y1="401.2" x2="150.3" y2="401.2" stroke="#8a8a8a" stroke-width="0.6"/>
<line x1="314.7" y1="401.2" x2="312.7" y2="401.2" stroke="#8a8a8a" stroke-width="0.6"/>
<line x1="148.3" y1="393.7" x2="150.3" y2="393.7" stroke="#8a8a8a" stroke-width="0.6"/>
<line x1="314.7" y1="393.7" x2="312.7" y2="393.7" stroke="#8a8a8a" stroke-width="0.6"/>
<line x1="148.3" y1="386.2" x2="152.3" y2="386.2" stroke="#8a8a8a" stroke-width="0.6"/>
<line x1="314.7" y1="386.2" x2="310.7" y2="386.2" stroke="#8a8a8a" stroke-width="0.6"/>
<line x1="148.3" y1="378.7" x2="150.3" y2="378.7" stroke="#8a8a8a" stroke-width="0.6"/>
<line x1="314.7" y1="378.7" x2="312.7" y2="378.7" stroke="#8a8a8a" stroke-width="0.6"/>
<line x1="148.3" y1="371.2" x2="150.3" y2="371.2" stroke="#8a8a8a" stroke-width="0.6"/>
<line x1="314.7" y1="371.2" x2="312.7" y2="371.2" stroke="#8a8a8a" stroke-width="0.6"/>
<text x="144.2" y="388.9" font-size="7.5" fill="#555" text-anchor="end">1.6</text>
<text x="144.2" y="418.9" font-size="7.5" fill="#555" text-anchor="end">1.4</text>
<text x="144.2" y="448.9" font-size="7.5" fill="#555" text-anchor="end">1.2</text>
<text x="144.2" y="478.9" font-size="7.5" fill="#555" text-anchor="end">1</text>
<text x="144.2" y="508.9" font-size="7.5" fill="#555" text-anchor="end">0.8</text>
<text x="144.2" y="538.9" font-size="7.5" fill="#555" text-anchor="end">0.6</text>
<text x="148.3" y="545.3" font-size="7.5" fill="#555" text-anchor="middle">0</text>
<text x="181.6" y="545.3" font-size="7.5" fill="#555" text-anchor="middle">100</text>
<text x="215.0" y="545.3" font-size="7.5" fill="#555" text-anchor="middle">200</text>
<text x="248.3" y="545.3" font-size="7.5" fill="#555" text-anchor="middle">300</text>
<text x="281.7" y="545.3" font-size="7.5" fill="#555" text-anchor="middle">400</text>
<text x="315.0" y="545.3" font-size="7.5" fill="#555" text-anchor="middle">500</text>
<text x="231.5" y="555.5" font-size="7.5" fill="#555" text-anchor="middle">R(arcsec)</text>
<text x="129" y="455.5" font-size="7" fill="#555" text-anchor="middle">α</text>
<circle cx="157.3" cy="471.8" r="1.5" fill="#000"/>
<circle cx="176.2" cy="461.7" r="1.5" fill="#000"/>
<circle cx="185.8" cy="459.6" r="1.5" fill="#000"/>
<circle cx="195" cy="459.6" r="1.5" fill="#000"/>
<circle cx="204.4" cy="455" r="1.5" fill="#000"/>
<circle cx="213.9" cy="447.5" r="1.5" fill="#000"/>
<circle cx="223.2" cy="441" r="1.5" fill="#000"/>
<circle cx="232.6" cy="442.5" r="1.5" fill="#000"/>
<circle cx="242.1" cy="446.4" r="1.5" fill="#000"/>
<circle cx="251.5" cy="437.6" r="1.5" fill="#000"/>
<circle cx="260.8" cy="425.4" r="1.5" fill="#000"/>
<circle cx="270.3" cy="430.1" r="1.5" fill="#000"/>
<circle cx="279.7" cy="441" r="1.5" fill="#000"/>
<line x1="279.7" y1="439" x2="279.7" y2="443" stroke="#666" stroke-width="0.6"/>
<circle cx="289.2" cy="430.3" r="1.5" fill="#000"/>
<line x1="289.2" y1="427.3" x2="289.2" y2="433.3" stroke="#666" stroke-width="0.6"/>
<circle cx="298.4" cy="403.5" r="1.5" fill="#000"/>
<line x1="298.4" y1="400.5" x2="298.4" y2="406.5" stroke="#666" stroke-width="0.6"/>
<circle cx="307.8" cy="385.7" r="1.5" fill="#000"/>
<line x1="307.8" y1="380.7" x2="307.8" y2="390.7" stroke="#666" stroke-width="0.6"/>
<rect x="516.5" y="345.3" width="176.1" height="176.6" fill="none" stroke="#8a8a8a" stroke-width="0.8"/>
<line x1="516.5" y1="521.9" x2="516.5" y2="516.9" stroke="#8a8a8a" stroke-width="0.6"/>
<line x1="516.5" y1="345.3" x2="516.5" y2="350.3" stroke="#8a8a8a" stroke-width="0.6"/>
<line x1="528.2" y1="521.9" x2="528.2" y2="519.4" stroke="#8a8a8a" stroke-width="0.6"/>
<line x1="528.2" y1="345.3" x2="528.2" y2="347.8" stroke="#8a8a8a" stroke-width="0.6"/>
<line x1="540.0" y1="521.9" x2="540.0" y2="519.4" stroke="#8a8a8a" stroke-width="0.6"/>
<line x1="540.0" y1="345.3" x2="540.0" y2="347.8" stroke="#8a8a8a" stroke-width="0.6"/>
<line x1="551.7" y1="521.9" x2="551.7" y2="519.4" stroke="#8a8a8a" stroke-width="0.6"/>
<line x1="551.7" y1="345.3" x2="551.7" y2="347.8" stroke="#8a8a8a" stroke-width="0.6"/>
<line x1="563.5" y1="521.9" x2="563.5" y2="519.4" stroke="#8a8a8a" stroke-width="0.6"/>
<line x1="563.5" y1="345.3" x2="563.5" y2="347.8" stroke="#8a8a8a" stroke-width="0.6"/>
<line x1="575.2" y1="521.9" x2="575.2" y2="516.9" stroke="#8a8a8a" stroke-width="0.6"/>
<line x1="575.2" y1="345.3" x2="575.2" y2="350.3" stroke="#8a8a8a" stroke-width="0.6"/>
<line x1="586.9" y1="521.9" x2="586.9" y2="519.4" stroke="#8a8a8a" stroke-width="0.6"/>
<line x1="586.9" y1="345.3" x2="586.9" y2="347.8" stroke="#8a8a8a" stroke-width="0.6"/>
<line x1="598.7" y1="521.9" x2="598.7" y2="519.4" stroke="#8a8a8a" stroke-width="0.6"/>
<line x1="598.7" y1="345.3" x2="598.7" y2="347.8" stroke="#8a8a8a" stroke-width="0.6"/>
<line x1="610.4" y1="521.9" x2="610.4" y2="519.4" stroke="#8a8a8a" stroke-width="0.6"/>
<line x1="610.4" y1="345.3" x2="610.4" y2="347.8" stroke="#8a8a8a" stroke-width="0.6"/>
<line x1="622.2" y1="521.9" x2="622.2" y2="519.4" stroke="#8a8a8a" stroke-width="0.6"/>
<line x1="622.2" y1="345.3" x2="622.2" y2="347.8" stroke="#8a8a8a" stroke-width="0.6"/>
<line x1="633.9" y1="521.9" x2="633.9" y2="516.9" stroke="#8a8a8a" stroke-width="0.6"/>
<line x1="633.9" y1="345.3" x2="633.9" y2="350.3" stroke="#8a8a8a" stroke-width="0.6"/>
<line x1="645.6" y1="521.9" x2="645.6" y2="519.4" stroke="#8a8a8a" stroke-width="0.6"/>
<line x1="645.6" y1="345.3" x2="645.6" y2="347.8" stroke="#8a8a8a" stroke-width="0.6"/>
<line x1="657.4" y1="521.9" x2="657.4" y2="519.4" stroke="#8a8a8a" stroke-width="0.6"/>
<line x1="657.4" y1="345.3" x2="657.4" y2="347.8" stroke="#8a8a8a" stroke-width="0.6"/>
<line x1="669.1" y1="521.9" x2="669.1" y2="519.4" stroke="#8a8a8a" stroke-width="0.6"/>
<line x1="669.1" y1="345.3" x2="669.1" y2="347.8" stroke="#8a8a8a" stroke-width="0.6"/>
<line x1="680.9" y1="521.9" x2="680.9" y2="519.4" stroke="#8a8a8a" stroke-width="0.6"/>
<line x1="680.9" y1="345.3" x2="680.9" y2="347.8" stroke="#8a8a8a" stroke-width="0.6"/>
<line x1="516.5" y1="522.0" x2="519.0" y2="522.0" stroke="#8a8a8a" stroke-width="0.6"/>
<line x1="692.6" y1="522.0" x2="690.1" y2="522.0" stroke="#8a8a8a" stroke-width="0.6"/>
<line x1="516.5" y1="511.0" x2="519.0" y2="511.0" stroke="#8a8a8a" stroke-width="0.6"/>
<line x1="692.6" y1="511.0" x2="690.1" y2="511.0" stroke="#8a8a8a" stroke-width="0.6"/>
<line x1="516.5" y1="500.0" x2="519.0" y2="500.0" stroke="#8a8a8a" stroke-width="0.6"/>
<line x1="692.6" y1="500.0" x2="690.1" y2="500.0" stroke="#8a8a8a" stroke-width="0.6"/>
<line x1="516.5" y1="489.0" x2="521.5" y2="489.0" stroke="#8a8a8a" stroke-width="0.6"/>
<line x1="692.6" y1="489.0" x2="687.6" y2="489.0" stroke="#8a8a8a" stroke-width="0.6"/>
<line x1="516.5" y1="478.0" x2="519.0" y2="478.0" stroke="#8a8a8a" stroke-width="0.6"/>
<line x1="692.6" y1="478.0" x2="690.1" y2="478.0" stroke="#8a8a8a" stroke-width="0.6"/>
<line x1="516.5" y1="467.0" x2="519.0" y2="467.0" stroke="#8a8a8a" stroke-width="0.6"/>
<line x1="692.6" y1="467.0" x2="690.1" y2="467.0" stroke="#8a8a8a" stroke-width="0.6"/>
<line x1="516.5" y1="456.0" x2="519.0" y2="456.0" stroke="#8a8a8a" stroke-width="0.6"/>
<line x1="692.6" y1="456.0" x2="690.1" y2="456.0" stroke="#8a8a8a" stroke-width="0.6"/>
<line x1="516.5" y1="445.0" x2="519.0" y2="445.0" stroke="#8a8a8a" stroke-width="0.6"/>
<line x1="692.6" y1="445.0" x2="690.1" y2="445.0" stroke="#8a8a8a" stroke-width="0.6"/>
<line x1="516.5" y1="434.0" x2="521.5" y2="434.0" stroke="#8a8a8a" stroke-width="0.6"/>
<line x1="692.6" y1="434.0" x2="687.6" y2="434.0" stroke="#8a8a8a" stroke-width="0.6"/>
<line x1="516.5" y1="423.0" x2="519.0" y2="423.0" stroke="#8a8a8a" stroke-width="0.6"/>
<line x1="692.6" y1="423.0" x2="690.1" y2="423.0" stroke="#8a8a8a" stroke-width="0.6"/>
<line x1="516.5" y1="412.0" x2="519.0" y2="412.0" stroke="#8a8a8a" stroke-width="0.6"/>
<line x1="692.6" y1="412.0" x2="690.1" y2="412.0" stroke="#8a8a8a" stroke-width="0.6"/>
<line x1="516.5" y1="401.0" x2="519.0" y2="401.0" stroke="#8a8a8a" stroke-width="0.6"/>
<line x1="692.6" y1="401.0" x2="690.1" y2="401.0" stroke="#8a8a8a" stroke-width="0.6"/>
<line x1="516.5" y1="390.0" x2="519.0" y2="390.0" stroke="#8a8a8a" stroke-width="0.6"/>
<line x1="692.6" y1="390.0" x2="690.1" y2="390.0" stroke="#8a8a8a" stroke-width="0.6"/>
<line x1="516.5" y1="379.0" x2="521.5" y2="379.0" stroke="#8a8a8a" stroke-width="0.6"/>
<line x1="692.6" y1="379.0" x2="687.6" y2="379.0" stroke="#8a8a8a" stroke-width="0.6"/>
<line x1="516.5" y1="368.0" x2="519.0" y2="368.0" stroke="#8a8a8a" stroke-width="0.6"/>
<line x1="692.6" y1="368.0" x2="690.1" y2="368.0" stroke="#8a8a8a" stroke-width="0.6"/>
<line x1="516.5" y1="357.0" x2="519.0" y2="357.0" stroke="#8a8a8a" stroke-width="0.6"/>
<line x1="692.6" y1="357.0" x2="690.1" y2="357.0" stroke="#8a8a8a" stroke-width="0.6"/>
<line x1="516.5" y1="346.0" x2="519.0" y2="346.0" stroke="#8a8a8a" stroke-width="0.6"/>
<line x1="692.6" y1="346.0" x2="690.1" y2="346.0" stroke="#8a8a8a" stroke-width="0.6"/>
<text x="510.5" y="382.7" font-family="Liberation Serif" font-size="10.5" fill="#444" text-anchor="end">2</text>
<text x="510.5" y="437.7" font-family="Liberation Serif" font-size="10.5" fill="#444" text-anchor="end">1.5</text>
<text x="510.5" y="492.7" font-family="Liberation Serif" font-size="10.5" fill="#444" text-anchor="end">1</text>
<text x="517.5" y="534.5" font-family="Liberation Serif" font-size="10.5" fill="#444" text-anchor="middle" clip-path="url(#cPR)">0</text>
<text x="576.2" y="534.5" font-family="Liberation Serif" font-size="10.5" fill="#444" text-anchor="middle" clip-path="url(#cPR)">100</text>
<text x="634.9" y="534.5" font-family="Liberation Serif" font-size="10.5" fill="#444" text-anchor="middle" clip-path="url(#cPR)">200</text>
<text x="693.6" y="534.5" font-family="Liberation Serif" font-size="10.5" fill="#444" text-anchor="middle" clip-path="url(#cPR)">300</text>
<text x="605" y="551.5" font-family="Liberation Serif" font-size="10.5" fill="#444" text-anchor="middle">R(arcsec)</text>
<text x="484" y="437.5" font-family="Liberation Serif" font-size="10.5" fill="#444" text-anchor="middle">α</text>
<circle cx="530.5" cy="480.6" r="2" fill="#000"/>
<circle cx="544.3" cy="473.4" r="2" fill="#000"/>
<circle cx="558.5" cy="469" r="2" fill="#000"/>
<circle cx="572.8" cy="463.6" r="2" fill="#000"/>
<circle cx="587" cy="451.5" r="2" fill="#000"/>
<circle cx="601" cy="457.5" r="2" fill="#000"/>
<circle cx="615.1" cy="455.6" r="2" fill="#000"/>
<circle cx="629.1" cy="455.3" r="2" fill="#000"/>
<circle cx="643.1" cy="453.8" r="2" fill="#000"/>
<circle cx="657.5" cy="437.2" r="2" fill="#000"/>
<line x1="657.5" y1="431.7" x2="657.5" y2="442.7" stroke="#666" stroke-width="0.7"/>
<circle cx="671.6" cy="365.1" r="2" fill="#000"/>
<line x1="671.6" y1="356.1" x2="671.6" y2="374.1" stroke="#666" stroke-width="0.7"/>
<clipPath id="cPR"><rect x="476.8" y="340.3" width="220.8" height="215.8"/></clipPath>
<text x="90" y="578.3" font-size="19" font-weight="bold" fill="#120a78" textLength="235.8" lengthAdjust="spacingAndGlyphs" xml:space="preserve">core radius = 72”  (240 kpc)</text>
<text x="469" y="574" font-size="19" font-weight="bold" fill="#120a78" textLength="236.2" lengthAdjust="spacingAndGlyphs" xml:space="preserve">core radius = 96”  (300 kpc)</text>
<text x="0" y="0" font-size="21" font-weight="bold" fill="#000" textLength="161.5" lengthAdjust="spacingAndGlyphs" transform="translate(770.4,529) rotate(-90)">Feretti et al . 2004</text>
</svg>
</body></html>
